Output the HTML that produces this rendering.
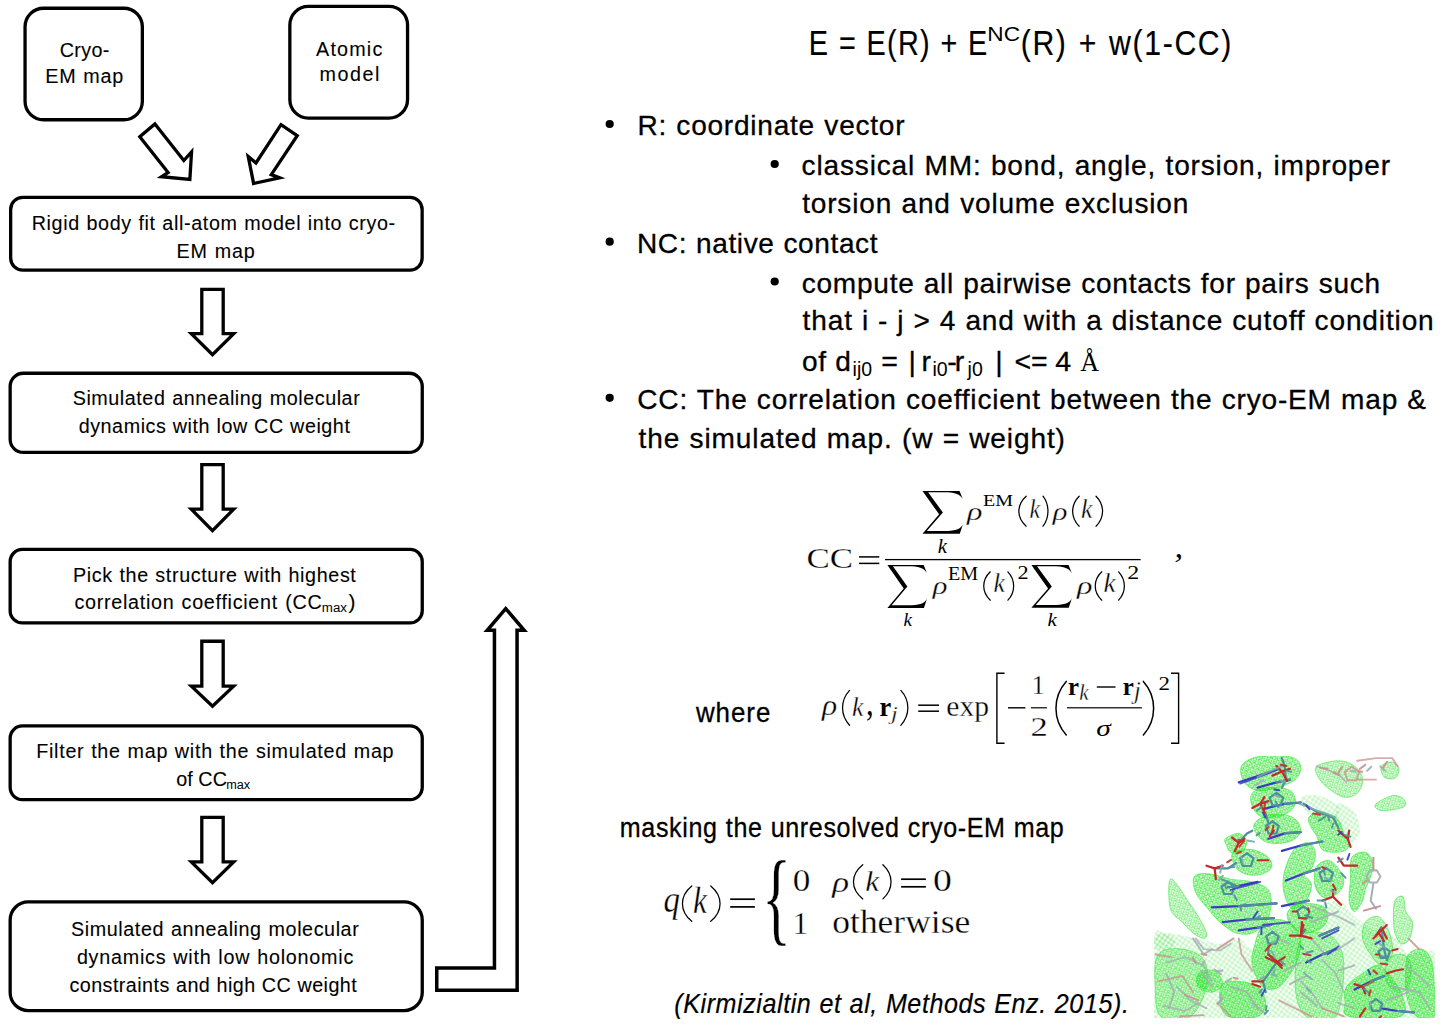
<!DOCTYPE html>
<html><head><meta charset="utf-8"><style>
html,body{margin:0;padding:0;background:#fff;width:1442px;height:1026px;overflow:hidden;font-family:"Liberation Sans",sans-serif}
svg{display:block}
</style></head><body>
<svg width="1442" height="1026" viewBox="0 0 1442 1026">
<rect width="1442" height="1026" fill="#fff"/>
<defs>
<pattern id="mesh" width="5" height="5" patternUnits="userSpaceOnUse" patternTransform="rotate(17)">
<path d="M0,1.2 L2.6,0.4 L5,1.4 M0,3.6 L2.4,2.9 L5,3.8 M0.9,0 L1.3,2.5 L0.7,5 M3.6,0 L3.3,2.6 L3.8,5 M1.3,2.5 L3.3,2.6" stroke="#14e014" stroke-width="0.5" fill="none"/>
</pattern>
<pattern id="mesh2" width="4.3" height="4.3" patternUnits="userSpaceOnUse" patternTransform="rotate(-28)">
<path d="M0,2 L4.3,2 M2,0 L2,4.3" stroke="#20e020" stroke-width="0.4" fill="none"/>
</pattern>
<pattern id="meshL" width="4" height="4" patternUnits="userSpaceOnUse" patternTransform="rotate(35)">
<path d="M0,2 L4,2 M2,0 L2,4" stroke="#3ee03e" stroke-width="0.45" fill="none"/>
</pattern>
<clipPath id="molclip"><rect x="1154" y="756" width="281" height="262"/></clipPath>
</defs>
<g clip-path="url(#molclip)">
<path d="M1154.0,938.4 C1156.1,924.0 1159.2,933.0 1166.1,933.0 C1173.1,933.0 1186.8,936.6 1195.7,938.4 C1204.7,940.2 1212.8,943.8 1220.0,943.8 C1227.1,943.8 1233.4,937.5 1238.8,938.4 C1244.2,939.3 1248.2,949.1 1252.3,949.1 C1256.3,949.1 1256.7,941.1 1263.0,938.4 C1269.3,935.7 1281.9,937.5 1289.9,933.0 C1298.0,928.5 1303.4,916.8 1311.5,911.5 C1319.5,906.1 1331.2,899.8 1338.4,900.7 C1345.6,901.6 1347.8,911.5 1354.5,916.8 C1361.2,922.2 1371.6,929.4 1378.7,933.0 C1385.9,936.6 1392.6,934.8 1397.6,938.4 C1402.5,942.0 1402.1,951.8 1408.3,954.5 C1414.6,957.2 1430.8,943.8 1435.3,954.5 C1439.7,965.3 1482.1,1008.3 1435.3,1019.1 C1388.4,1029.9 1200.9,1032.6 1154.0,1019.1 C1107.2,1005.7 1152.0,952.7 1154.0,938.4 Z" fill="url(#meshL)" opacity="0.75"/>
<path d="M1155.4,935.7 C1157.6,933.4 1165.5,933.0 1168.8,934.3 C1172.2,935.7 1176.0,941.1 1175.6,943.8 C1175.1,946.4 1169.5,949.8 1166.1,950.5 C1162.8,951.2 1157.2,950.3 1155.4,947.8 C1153.6,945.3 1153.1,937.9 1155.4,935.7 Z" fill="url(#meshL)" opacity="0.75"/>
<path d="M1338.4,803.8 C1341.5,802.0 1350.9,807.4 1354.5,811.9 C1358.1,816.4 1359.9,825.8 1359.9,830.7 C1359.9,835.7 1357.2,840.2 1354.5,841.5 C1351.8,842.8 1346.9,841.9 1343.8,838.8 C1340.6,835.7 1336.6,828.5 1335.7,822.7 C1334.8,816.8 1335.2,805.6 1338.4,803.8 Z" fill="url(#meshL)" opacity="0.75"/>
<path d="M1300.7,798.4 C1302.0,794.9 1313.3,794.4 1319.5,795.7 C1325.8,797.1 1336.1,802.5 1338.4,806.5 C1340.6,810.5 1337.5,818.2 1333.0,820.0 C1328.5,821.8 1316.8,820.9 1311.5,817.3 C1306.1,813.7 1299.4,802.0 1300.7,798.4 Z" fill="url(#meshL)" opacity="0.75"/>
<path d="M1241.5,766.1 C1243.7,761.9 1249.6,758.3 1257.6,756.7 C1265.7,755.2 1282.8,755.2 1289.9,756.7 C1297.1,758.3 1299.8,762.3 1300.7,766.1 C1301.6,770.0 1299.4,776.0 1295.3,779.6 C1291.3,783.2 1282.8,785.9 1276.5,787.7 C1270.2,789.5 1263.0,791.3 1257.6,790.4 C1252.3,789.5 1246.9,786.3 1244.2,782.3 C1241.5,778.3 1239.3,770.4 1241.5,766.1 Z" fill="url(#mesh)"/>
<path d="M1241.5,766.1 C1243.7,761.9 1249.6,758.3 1257.6,756.7 C1265.7,755.2 1282.8,755.2 1289.9,756.7 C1297.1,758.3 1299.8,762.3 1300.7,766.1 C1301.6,770.0 1299.4,776.0 1295.3,779.6 C1291.3,783.2 1282.8,785.9 1276.5,787.7 C1270.2,789.5 1263.0,791.3 1257.6,790.4 C1252.3,789.5 1246.9,786.3 1244.2,782.3 C1241.5,778.3 1239.3,770.4 1241.5,766.1 Z" fill="url(#mesh2)" opacity="0.6" stroke="#22e622" stroke-width="0.9"/>
<path d="M1252.3,793.1 C1255.0,789.9 1262.1,788.1 1268.4,787.7 C1274.7,787.2 1285.5,787.7 1289.9,790.4 C1294.4,793.1 1296.2,799.8 1295.3,803.8 C1294.4,807.9 1289.9,812.3 1284.6,814.6 C1279.2,816.8 1268.4,818.6 1263.0,817.3 C1257.6,815.9 1254.1,810.5 1252.3,806.5 C1250.5,802.5 1249.6,796.2 1252.3,793.1 Z" fill="url(#mesh)"/>
<path d="M1252.3,793.1 C1255.0,789.9 1262.1,788.1 1268.4,787.7 C1274.7,787.2 1285.5,787.7 1289.9,790.4 C1294.4,793.1 1296.2,799.8 1295.3,803.8 C1294.4,807.9 1289.9,812.3 1284.6,814.6 C1279.2,816.8 1268.4,818.6 1263.0,817.3 C1257.6,815.9 1254.1,810.5 1252.3,806.5 C1250.5,802.5 1249.6,796.2 1252.3,793.1 Z" fill="url(#mesh2)" opacity="0.6" stroke="#22e622" stroke-width="0.9"/>
<path d="M1255.0,822.7 C1257.4,819.5 1264.8,815.5 1271.1,814.6 C1277.4,813.7 1287.7,814.6 1292.6,817.3 C1297.6,820.0 1301.1,826.7 1300.7,830.7 C1300.3,834.8 1295.3,839.5 1289.9,841.5 C1284.6,843.5 1274.0,844.2 1268.4,842.8 C1262.8,841.5 1258.5,836.8 1256.3,833.4 C1254.1,830.1 1252.5,825.8 1255.0,822.7 Z" fill="url(#mesh)"/>
<path d="M1255.0,822.7 C1257.4,819.5 1264.8,815.5 1271.1,814.6 C1277.4,813.7 1287.7,814.6 1292.6,817.3 C1297.6,820.0 1301.1,826.7 1300.7,830.7 C1300.3,834.8 1295.3,839.5 1289.9,841.5 C1284.6,843.5 1274.0,844.2 1268.4,842.8 C1262.8,841.5 1258.5,836.8 1256.3,833.4 C1254.1,830.1 1252.5,825.8 1255.0,822.7 Z" fill="url(#mesh2)" opacity="0.6" stroke="#22e622" stroke-width="0.9"/>
<path d="M1225.3,838.8 C1227.4,836.8 1235.2,833.0 1238.8,833.4 C1242.4,833.9 1246.4,838.4 1246.9,841.5 C1247.3,844.6 1244.2,850.5 1241.5,852.3 C1238.8,854.1 1233.2,853.4 1230.7,852.3 C1228.3,851.1 1227.6,847.8 1226.7,845.5 C1225.8,843.3 1223.3,840.8 1225.3,838.8 Z" fill="url(#mesh)"/>
<path d="M1225.3,838.8 C1227.4,836.8 1235.2,833.0 1238.8,833.4 C1242.4,833.9 1246.4,838.4 1246.9,841.5 C1247.3,844.6 1244.2,850.5 1241.5,852.3 C1238.8,854.1 1233.2,853.4 1230.7,852.3 C1228.3,851.1 1227.6,847.8 1226.7,845.5 C1225.8,843.3 1223.3,840.8 1225.3,838.8 Z" fill="url(#mesh2)" opacity="0.6" stroke="#22e622" stroke-width="0.9"/>
<path d="M1233.4,852.3 C1236.6,850.0 1246.4,848.7 1252.3,849.6 C1258.1,850.5 1265.3,854.5 1268.4,857.6 C1271.5,860.8 1272.9,865.5 1271.1,868.4 C1269.3,871.3 1262.6,874.5 1257.6,875.1 C1252.7,875.8 1245.5,874.5 1241.5,872.4 C1237.5,870.4 1234.8,866.4 1233.4,863.0 C1232.1,859.7 1230.3,854.5 1233.4,852.3 Z" fill="url(#mesh)"/>
<path d="M1233.4,852.3 C1236.6,850.0 1246.4,848.7 1252.3,849.6 C1258.1,850.5 1265.3,854.5 1268.4,857.6 C1271.5,860.8 1272.9,865.5 1271.1,868.4 C1269.3,871.3 1262.6,874.5 1257.6,875.1 C1252.7,875.8 1245.5,874.5 1241.5,872.4 C1237.5,870.4 1234.8,866.4 1233.4,863.0 C1232.1,859.7 1230.3,854.5 1233.4,852.3 Z" fill="url(#mesh2)" opacity="0.6" stroke="#22e622" stroke-width="0.9"/>
<path d="M1194.4,876.5 C1196.6,873.3 1203.1,873.3 1209.2,873.8 C1215.3,874.2 1223.6,877.8 1230.7,879.2 C1237.9,880.5 1246.0,880.1 1252.3,881.9 C1258.5,883.7 1265.3,885.9 1268.4,889.9 C1271.5,894.0 1271.5,900.7 1271.1,906.1 C1270.6,911.5 1268.9,917.7 1265.7,922.2 C1262.6,926.7 1257.2,931.2 1252.3,933.0 C1247.3,934.8 1241.5,934.8 1236.1,933.0 C1230.7,931.2 1224.7,926.3 1220.0,922.2 C1215.3,918.2 1211.9,913.7 1207.9,908.8 C1203.8,903.8 1198.0,898.0 1195.7,892.6 C1193.5,887.2 1192.2,879.6 1194.4,876.5 Z" fill="url(#mesh)"/>
<path d="M1194.4,876.5 C1196.6,873.3 1203.1,873.3 1209.2,873.8 C1215.3,874.2 1223.6,877.8 1230.7,879.2 C1237.9,880.5 1246.0,880.1 1252.3,881.9 C1258.5,883.7 1265.3,885.9 1268.4,889.9 C1271.5,894.0 1271.5,900.7 1271.1,906.1 C1270.6,911.5 1268.9,917.7 1265.7,922.2 C1262.6,926.7 1257.2,931.2 1252.3,933.0 C1247.3,934.8 1241.5,934.8 1236.1,933.0 C1230.7,931.2 1224.7,926.3 1220.0,922.2 C1215.3,918.2 1211.9,913.7 1207.9,908.8 C1203.8,903.8 1198.0,898.0 1195.7,892.6 C1193.5,887.2 1192.2,879.6 1194.4,876.5 Z" fill="url(#mesh2)" opacity="0.6" stroke="#22e622" stroke-width="0.9"/>
<path d="M1287.2,863.0 C1289.3,857.9 1291.7,851.6 1295.3,848.2 C1298.9,844.9 1305.4,841.9 1308.8,842.8 C1312.1,843.7 1315.1,849.3 1315.5,853.6 C1315.9,857.9 1313.5,865.0 1311.5,868.4 C1309.4,871.8 1303.4,871.1 1303.4,873.8 C1303.4,876.5 1311.0,880.1 1311.5,884.6 C1311.9,889.0 1309.2,896.7 1306.1,900.7 C1302.9,904.7 1296.2,909.7 1292.6,908.8 C1289.0,907.9 1286.1,900.3 1284.6,895.3 C1283.0,890.4 1282.8,884.6 1283.2,879.2 C1283.7,873.8 1285.2,868.2 1287.2,863.0 Z" fill="url(#mesh)"/>
<path d="M1287.2,863.0 C1289.3,857.9 1291.7,851.6 1295.3,848.2 C1298.9,844.9 1305.4,841.9 1308.8,842.8 C1312.1,843.7 1315.1,849.3 1315.5,853.6 C1315.9,857.9 1313.5,865.0 1311.5,868.4 C1309.4,871.8 1303.4,871.1 1303.4,873.8 C1303.4,876.5 1311.0,880.1 1311.5,884.6 C1311.9,889.0 1309.2,896.7 1306.1,900.7 C1302.9,904.7 1296.2,909.7 1292.6,908.8 C1289.0,907.9 1286.1,900.3 1284.6,895.3 C1283.0,890.4 1282.8,884.6 1283.2,879.2 C1283.7,873.8 1285.2,868.2 1287.2,863.0 Z" fill="url(#mesh2)" opacity="0.6" stroke="#22e622" stroke-width="0.9"/>
<path d="M1308.8,817.3 C1310.6,814.6 1317.3,811.4 1322.2,811.9 C1327.2,812.3 1334.8,816.4 1338.4,820.0 C1342.0,823.6 1342.0,829.8 1343.8,833.4 C1345.6,837.0 1348.7,838.8 1349.1,841.5 C1349.6,844.2 1348.7,847.8 1346.4,849.6 C1344.2,851.4 1339.7,852.3 1335.7,852.3 C1331.6,852.3 1325.4,852.3 1322.2,849.6 C1319.1,846.9 1318.6,839.7 1316.8,836.1 C1315.1,832.5 1312.8,831.2 1311.5,828.0 C1310.1,824.9 1307.0,820.0 1308.8,817.3 Z" fill="url(#mesh)"/>
<path d="M1308.8,817.3 C1310.6,814.6 1317.3,811.4 1322.2,811.9 C1327.2,812.3 1334.8,816.4 1338.4,820.0 C1342.0,823.6 1342.0,829.8 1343.8,833.4 C1345.6,837.0 1348.7,838.8 1349.1,841.5 C1349.6,844.2 1348.7,847.8 1346.4,849.6 C1344.2,851.4 1339.7,852.3 1335.7,852.3 C1331.6,852.3 1325.4,852.3 1322.2,849.6 C1319.1,846.9 1318.6,839.7 1316.8,836.1 C1315.1,832.5 1312.8,831.2 1311.5,828.0 C1310.1,824.9 1307.0,820.0 1308.8,817.3 Z" fill="url(#mesh2)" opacity="0.6" stroke="#22e622" stroke-width="0.9"/>
<path d="M1315.5,868.4 C1317.5,863.9 1323.8,860.3 1327.6,860.3 C1331.4,860.3 1335.7,864.8 1338.4,868.4 C1341.1,872.0 1343.8,877.8 1343.8,881.9 C1343.8,885.9 1341.5,889.9 1338.4,892.6 C1335.2,895.3 1328.7,898.9 1324.9,898.0 C1321.1,897.1 1317.1,892.2 1315.5,887.2 C1313.9,882.3 1313.5,872.9 1315.5,868.4 Z" fill="url(#mesh)"/>
<path d="M1315.5,868.4 C1317.5,863.9 1323.8,860.3 1327.6,860.3 C1331.4,860.3 1335.7,864.8 1338.4,868.4 C1341.1,872.0 1343.8,877.8 1343.8,881.9 C1343.8,885.9 1341.5,889.9 1338.4,892.6 C1335.2,895.3 1328.7,898.9 1324.9,898.0 C1321.1,897.1 1317.1,892.2 1315.5,887.2 C1313.9,882.3 1313.5,872.9 1315.5,868.4 Z" fill="url(#mesh2)" opacity="0.6" stroke="#22e622" stroke-width="0.9"/>
<path d="M1289.9,908.8 C1292.2,906.5 1295.3,903.8 1300.7,903.4 C1306.1,902.9 1317.7,903.8 1322.2,906.1 C1326.7,908.3 1327.6,913.3 1327.6,916.8 C1327.6,920.4 1325.8,924.9 1322.2,927.6 C1318.6,930.3 1311.0,933.0 1306.1,933.0 C1301.1,933.0 1295.8,930.3 1292.6,927.6 C1289.5,924.9 1287.7,920.0 1287.2,916.8 C1286.8,913.7 1287.7,911.0 1289.9,908.8 Z" fill="url(#mesh)"/>
<path d="M1289.9,908.8 C1292.2,906.5 1295.3,903.8 1300.7,903.4 C1306.1,902.9 1317.7,903.8 1322.2,906.1 C1326.7,908.3 1327.6,913.3 1327.6,916.8 C1327.6,920.4 1325.8,924.9 1322.2,927.6 C1318.6,930.3 1311.0,933.0 1306.1,933.0 C1301.1,933.0 1295.8,930.3 1292.6,927.6 C1289.5,924.9 1287.7,920.0 1287.2,916.8 C1286.8,913.7 1287.7,911.0 1289.9,908.8 Z" fill="url(#mesh2)" opacity="0.6" stroke="#22e622" stroke-width="0.9"/>
<path d="M1170.2,879.2 C1171.5,877.4 1174.0,881.0 1176.9,884.6 C1179.8,888.1 1184.1,895.3 1187.7,900.7 C1191.3,906.1 1195.3,911.5 1198.4,916.8 C1201.6,922.2 1205.6,929.4 1206.5,933.0 C1207.4,936.6 1206.1,938.4 1203.8,938.4 C1201.6,938.4 1196.6,935.7 1193.1,933.0 C1189.5,930.3 1185.9,925.8 1182.3,922.2 C1178.7,918.6 1173.8,915.9 1171.5,911.5 C1169.3,907.0 1169.1,900.7 1168.8,895.3 C1168.6,889.9 1168.8,881.0 1170.2,879.2 Z" fill="url(#mesh)" opacity="0.8" stroke="#2ee02e" stroke-width="0.7"/>
<path d="M1316.8,766.1 C1320.2,763.5 1332.1,760.8 1338.4,760.8 C1344.7,760.8 1350.5,763.0 1354.5,766.1 C1358.6,769.3 1362.1,775.1 1362.6,779.6 C1363.0,784.1 1360.4,790.1 1357.2,793.1 C1354.1,796.0 1348.7,798.0 1343.8,797.1 C1338.8,796.2 1331.9,791.0 1327.6,787.7 C1323.3,784.3 1320.0,780.5 1318.2,776.9 C1316.4,773.3 1313.5,768.8 1316.8,766.1 Z" fill="url(#mesh)" opacity="0.8" stroke="#2ee02e" stroke-width="0.7"/>
<path d="M1381.4,766.1 C1382.8,763.7 1389.3,761.7 1392.2,762.1 C1395.1,762.6 1398.5,766.1 1398.9,768.8 C1399.4,771.5 1397.4,776.9 1394.9,778.3 C1392.4,779.6 1386.4,778.9 1384.1,776.9 C1381.9,774.9 1380.1,768.6 1381.4,766.1 Z" fill="url(#mesh)" opacity="0.8" stroke="#2ee02e" stroke-width="0.7"/>
<path d="M1376.0,803.8 C1378.5,801.6 1387.7,796.6 1392.2,795.7 C1396.7,794.9 1400.9,796.6 1403.0,798.4 C1405.0,800.2 1407.0,804.5 1404.3,806.5 C1401.6,808.5 1391.3,810.1 1386.8,810.5 C1382.3,811.0 1379.2,810.3 1377.4,809.2 C1375.6,808.1 1373.6,806.1 1376.0,803.8 Z" fill="url(#mesh)" opacity="0.8" stroke="#2ee02e" stroke-width="0.7"/>
<path d="M1351.8,857.6 C1354.3,853.2 1361.7,851.4 1365.3,852.3 C1368.9,853.2 1372.5,859.0 1373.4,863.0 C1374.3,867.1 1372.0,872.0 1370.7,876.5 C1369.3,881.0 1366.6,885.9 1365.3,889.9 C1363.9,894.0 1364.4,897.1 1362.6,900.7 C1360.8,904.3 1356.8,911.5 1354.5,911.5 C1352.3,911.5 1349.8,906.1 1349.1,900.7 C1348.5,895.3 1350.0,886.3 1350.5,879.2 C1350.9,872.0 1349.4,862.1 1351.8,857.6 Z" fill="url(#mesh)"/>
<path d="M1351.8,857.6 C1354.3,853.2 1361.7,851.4 1365.3,852.3 C1368.9,853.2 1372.5,859.0 1373.4,863.0 C1374.3,867.1 1372.0,872.0 1370.7,876.5 C1369.3,881.0 1366.6,885.9 1365.3,889.9 C1363.9,894.0 1364.4,897.1 1362.6,900.7 C1360.8,904.3 1356.8,911.5 1354.5,911.5 C1352.3,911.5 1349.8,906.1 1349.1,900.7 C1348.5,895.3 1350.0,886.3 1350.5,879.2 C1350.9,872.0 1349.4,862.1 1351.8,857.6 Z" fill="url(#mesh2)" opacity="0.6" stroke="#22e622" stroke-width="0.9"/>
<path d="M1394.9,900.7 C1396.5,897.3 1401.2,894.9 1403.0,896.7 C1404.8,898.5 1404.1,907.2 1405.7,911.5 C1407.2,915.7 1411.7,917.7 1412.4,922.2 C1413.1,926.7 1411.5,934.8 1409.7,938.4 C1407.9,942.0 1404.1,944.7 1401.6,943.8 C1399.1,942.9 1396.2,937.5 1394.9,933.0 C1393.5,928.5 1393.5,922.2 1393.5,916.8 C1393.5,911.5 1393.3,904.1 1394.9,900.7 Z" fill="url(#mesh)" opacity="0.8" stroke="#2ee02e" stroke-width="0.7"/>
<path d="M1408.3,954.5 C1411.0,950.5 1418.0,948.2 1421.8,949.1 C1425.6,950.0 1429.2,954.5 1431.2,959.9 C1433.2,965.3 1433.5,972.0 1433.9,981.4 C1434.4,990.9 1436.8,1010.6 1433.9,1016.4 C1431.0,1022.2 1420.9,1019.6 1416.4,1016.4 C1411.9,1013.3 1408.8,1004.8 1407.0,997.6 C1405.2,990.4 1405.4,980.5 1405.7,973.4 C1405.9,966.2 1405.7,958.6 1408.3,954.5 Z" fill="url(#mesh)"/>
<path d="M1408.3,954.5 C1411.0,950.5 1418.0,948.2 1421.8,949.1 C1425.6,950.0 1429.2,954.5 1431.2,959.9 C1433.2,965.3 1433.5,972.0 1433.9,981.4 C1434.4,990.9 1436.8,1010.6 1433.9,1016.4 C1431.0,1022.2 1420.9,1019.6 1416.4,1016.4 C1411.9,1013.3 1408.8,1004.8 1407.0,997.6 C1405.2,990.4 1405.4,980.5 1405.7,973.4 C1405.9,966.2 1405.7,958.6 1408.3,954.5 Z" fill="url(#mesh2)" opacity="0.6" stroke="#22e622" stroke-width="0.9"/>
<path d="M1346.4,986.8 C1349.4,981.9 1357.2,976.9 1362.6,973.4 C1368.0,969.8 1373.8,964.4 1378.7,965.3 C1383.7,966.2 1388.2,973.4 1392.2,978.7 C1396.2,984.1 1401.6,991.3 1403.0,997.6 C1404.3,1003.9 1409.2,1013.3 1400.3,1016.4 C1391.3,1019.6 1358.3,1018.7 1349.1,1016.4 C1339.9,1014.2 1345.6,1007.9 1345.1,1003.0 C1344.7,998.0 1343.5,991.7 1346.4,986.8 Z" fill="url(#mesh)"/>
<path d="M1346.4,986.8 C1349.4,981.9 1357.2,976.9 1362.6,973.4 C1368.0,969.8 1373.8,964.4 1378.7,965.3 C1383.7,966.2 1388.2,973.4 1392.2,978.7 C1396.2,984.1 1401.6,991.3 1403.0,997.6 C1404.3,1003.9 1409.2,1013.3 1400.3,1016.4 C1391.3,1019.6 1358.3,1018.7 1349.1,1016.4 C1339.9,1014.2 1345.6,1007.9 1345.1,1003.0 C1344.7,998.0 1343.5,991.7 1346.4,986.8 Z" fill="url(#mesh2)" opacity="0.6" stroke="#22e622" stroke-width="0.9"/>
<path d="M1263.0,924.9 C1267.1,920.9 1273.8,919.1 1279.2,919.5 C1284.6,920.0 1291.7,923.6 1295.3,927.6 C1298.9,931.6 1300.7,937.5 1300.7,943.8 C1300.7,950.0 1298.9,958.1 1295.3,965.3 C1291.7,972.5 1284.6,983.2 1279.2,986.8 C1273.8,990.4 1267.5,990.4 1263.0,986.8 C1258.5,983.2 1253.6,972.5 1252.3,965.3 C1250.9,958.1 1253.2,950.5 1255.0,943.8 C1256.7,937.0 1259.0,929.0 1263.0,924.9 Z" fill="url(#mesh)"/>
<path d="M1263.0,924.9 C1267.1,920.9 1273.8,919.1 1279.2,919.5 C1284.6,920.0 1291.7,923.6 1295.3,927.6 C1298.9,931.6 1300.7,937.5 1300.7,943.8 C1300.7,950.0 1298.9,958.1 1295.3,965.3 C1291.7,972.5 1284.6,983.2 1279.2,986.8 C1273.8,990.4 1267.5,990.4 1263.0,986.8 C1258.5,983.2 1253.6,972.5 1252.3,965.3 C1250.9,958.1 1253.2,950.5 1255.0,943.8 C1256.7,937.0 1259.0,929.0 1263.0,924.9 Z" fill="url(#mesh2)" opacity="0.6" stroke="#22e622" stroke-width="0.9"/>
<path d="M1222.7,984.1 C1225.8,981.0 1233.0,981.0 1238.8,981.4 C1244.6,981.9 1253.2,983.2 1257.6,986.8 C1262.1,990.4 1265.7,998.0 1265.7,1003.0 C1265.7,1007.9 1263.9,1014.2 1257.6,1016.4 C1251.4,1018.7 1234.3,1019.1 1228.0,1016.4 C1221.8,1013.7 1220.9,1005.7 1220.0,1000.3 C1219.1,994.9 1219.5,987.3 1222.7,984.1 Z" fill="url(#mesh)"/>
<path d="M1222.7,984.1 C1225.8,981.0 1233.0,981.0 1238.8,981.4 C1244.6,981.9 1253.2,983.2 1257.6,986.8 C1262.1,990.4 1265.7,998.0 1265.7,1003.0 C1265.7,1007.9 1263.9,1014.2 1257.6,1016.4 C1251.4,1018.7 1234.3,1019.1 1228.0,1016.4 C1221.8,1013.7 1220.9,1005.7 1220.0,1000.3 C1219.1,994.9 1219.5,987.3 1222.7,984.1 Z" fill="url(#mesh2)" opacity="0.6" stroke="#22e622" stroke-width="0.9"/>
<path d="M1365.3,922.2 C1368.0,918.6 1374.7,915.1 1378.7,916.8 C1382.8,918.6 1387.3,926.7 1389.5,933.0 C1391.7,939.3 1393.5,949.1 1392.2,954.5 C1390.9,959.9 1385.0,965.3 1381.4,965.3 C1377.8,965.3 1373.8,959.0 1370.7,954.5 C1367.5,950.0 1363.5,943.8 1362.6,938.4 C1361.7,933.0 1362.6,925.8 1365.3,922.2 Z" fill="url(#mesh)" opacity="0.8" stroke="#2ee02e" stroke-width="0.7"/>
<path d="M1198.4,973.4 C1201.1,970.7 1210.5,968.9 1214.6,970.7 C1218.6,972.5 1223.1,980.5 1222.7,984.1 C1222.2,987.7 1215.9,991.7 1211.9,992.2 C1207.9,992.6 1200.7,990.0 1198.4,986.8 C1196.2,983.7 1195.7,976.0 1198.4,973.4 Z" fill="url(#mesh)"/>
<path d="M1198.4,973.4 C1201.1,970.7 1210.5,968.9 1214.6,970.7 C1218.6,972.5 1223.1,980.5 1222.7,984.1 C1222.2,987.7 1215.9,991.7 1211.9,992.2 C1207.9,992.6 1200.7,990.0 1198.4,986.8 C1196.2,983.7 1195.7,976.0 1198.4,973.4 Z" fill="url(#mesh2)" opacity="0.6" stroke="#22e622" stroke-width="0.9"/>
<path d="M1158.1,954.5 C1162.6,948.2 1174.7,948.2 1182.3,949.1 C1189.9,950.0 1199.8,953.6 1203.8,959.9 C1207.9,966.2 1208.8,977.4 1206.5,986.8 C1204.3,996.2 1198.0,1011.5 1190.4,1016.4 C1182.7,1021.3 1166.6,1021.3 1160.8,1016.4 C1154.9,1011.5 1155.8,997.1 1155.4,986.8 C1154.9,976.5 1153.6,960.8 1158.1,954.5 Z" fill="url(#mesh)" opacity="0.8" stroke="#2ee02e" stroke-width="0.7"/>
<path d="M1300.7,938.4 C1305.2,929.4 1315.9,932.1 1322.2,933.0 C1328.5,933.9 1334.8,937.5 1338.4,943.8 C1342.0,950.0 1344.2,958.6 1343.8,970.7 C1343.3,982.8 1342.0,1008.8 1335.7,1016.4 C1329.4,1024.0 1312.8,1021.3 1306.1,1016.4 C1299.4,1011.5 1296.2,999.8 1295.3,986.8 C1294.4,973.8 1296.2,947.3 1300.7,938.4 Z" fill="url(#mesh)" opacity="0.8" stroke="#2ee02e" stroke-width="0.7"/>
<path d="M1386.8,959.9 C1389.5,955.4 1398.9,953.6 1403.0,954.5 C1407.0,955.4 1410.1,959.9 1411.0,965.3 C1411.9,970.7 1410.6,982.3 1408.3,986.8 C1406.1,991.3 1401.2,993.1 1397.6,992.2 C1394.0,991.3 1388.6,986.8 1386.8,981.4 C1385.0,976.0 1384.1,964.4 1386.8,959.9 Z" fill="url(#mesh)" opacity="0.8" stroke="#2ee02e" stroke-width="0.7"/>
<polyline points="1195.7,938.4 1203.8,949.1 1220.0,950.5 1230.7,943.8" fill="none" stroke="#a3adb4" stroke-width="1.92" stroke-linecap="round" stroke-linejoin="round" opacity="0.75"/>
<polyline points="1166.1,962.6 1185.0,957.2 1203.8,965.3 1211.9,981.4" fill="none" stroke="#a3adb4" stroke-width="1.92" stroke-linecap="round" stroke-linejoin="round" opacity="0.75"/>
<polyline points="1158.1,981.4 1182.3,976.0 1193.1,992.2" fill="none" stroke="#c99090" stroke-width="1.92" stroke-linecap="round" stroke-linejoin="round" opacity="0.75"/>
<polyline points="1163.5,1005.7 1185.0,1011.0 1198.4,1003.0" fill="none" stroke="#a3adb4" stroke-width="1.92" stroke-linecap="round" stroke-linejoin="round" opacity="0.75"/>
<polyline points="1238.8,938.4 1241.5,954.5 1252.3,970.7" fill="none" stroke="#c99090" stroke-width="1.92" stroke-linecap="round" stroke-linejoin="round" opacity="0.75"/>
<polyline points="1176.9,986.8 1190.4,1000.3 1206.5,1008.3" fill="none" stroke="#a3adb4" stroke-width="1.92" stroke-linecap="round" stroke-linejoin="round" opacity="0.75"/>
<polyline points="1311.5,938.4 1324.9,954.5 1338.4,949.1 1354.5,938.4" fill="none" stroke="#a3adb4" stroke-width="1.92" stroke-linecap="round" stroke-linejoin="round" opacity="0.75"/>
<polyline points="1322.2,959.9 1335.7,973.4 1343.8,992.2" fill="none" stroke="#a3adb4" stroke-width="1.92" stroke-linecap="round" stroke-linejoin="round" opacity="0.75"/>
<polyline points="1300.7,981.4 1311.5,992.2 1322.2,1008.3" fill="none" stroke="#a3adb4" stroke-width="1.92" stroke-linecap="round" stroke-linejoin="round" opacity="0.75"/>
<polyline points="1217.3,1003.0 1230.7,1016.4" fill="none" stroke="#c99090" stroke-width="1.92" stroke-linecap="round" stroke-linejoin="round" opacity="0.75"/>
<polyline points="1405.7,965.3 1419.1,976.0 1429.9,986.8" fill="none" stroke="#a3adb4" stroke-width="1.92" stroke-linecap="round" stroke-linejoin="round" opacity="0.75"/>
<polyline points="1311.5,906.1 1324.9,911.5 1338.4,916.8 1354.5,924.9" fill="none" stroke="#a3adb4" stroke-width="1.92" stroke-linecap="round" stroke-linejoin="round" opacity="0.75"/>
<polyline points="1279.2,1000.3 1295.3,1008.3 1311.5,1016.4" fill="none" stroke="#c99090" stroke-width="1.92" stroke-linecap="round" stroke-linejoin="round" opacity="0.75"/>
<polyline points="1155.4,954.5 1171.5,957.2" fill="none" stroke="#c99090" stroke-width="1.92" stroke-linecap="round" stroke-linejoin="round" opacity="0.75"/>
<polyline points="1338.4,1003.0 1354.5,1008.3" fill="none" stroke="#a3adb4" stroke-width="1.92" stroke-linecap="round" stroke-linejoin="round" opacity="0.75"/>
<polyline points="1252.3,1003.0 1265.7,1013.7" fill="none" stroke="#a3adb4" stroke-width="1.92" stroke-linecap="round" stroke-linejoin="round" opacity="0.75"/>
<polyline points="1276.5,938.4 1289.9,943.8" fill="none" stroke="#a3adb4" stroke-width="1.92" stroke-linecap="round" stroke-linejoin="round" opacity="0.75"/>
<polyline points="1357.2,779.6 1376.0,779.6" fill="none" stroke="#c99090" stroke-width="1.92" stroke-linecap="round" stroke-linejoin="round" opacity="0.75"/>
<polyline points="1316.8,766.1 1338.4,774.2 1346.4,782.3" fill="none" stroke="#a3adb4" stroke-width="1.92" stroke-linecap="round" stroke-linejoin="round" opacity="0.75"/>
<polyline points="1357.2,760.8 1376.0,758.1 1392.2,758.1 1397.6,766.1" fill="none" stroke="#c99090" stroke-width="1.92" stroke-linecap="round" stroke-linejoin="round" opacity="0.75"/>
<polyline points="1351.8,766.7 1359.0,771.9 1356.3,780.3 1347.4,780.3 1344.7,771.9 1351.8,766.7" fill="none" stroke="#c99090" stroke-width="1.92" stroke-linecap="round" stroke-linejoin="round" opacity="0.8"/>
<polyline points="1380.4,876.5 1376.9,882.5 1369.9,882.5 1366.4,876.5 1369.9,870.4 1376.9,870.4 1380.4,876.5" fill="none" stroke="#a3adb4" stroke-width="2.08" stroke-linecap="round" stroke-linejoin="round" opacity="0.9"/>
<polyline points="1373.4,857.6 1373.4,869.5" fill="none" stroke="#c99090" stroke-width="1.92" stroke-linecap="round" stroke-linejoin="round" opacity="1.0"/>
<polyline points="1362.6,883.2 1366.9,880.5" fill="none" stroke="#c99090" stroke-width="1.92" stroke-linecap="round" stroke-linejoin="round" opacity="1.0"/>
<polyline points="1373.4,883.5 1370.7,900.7 1376.0,908.8" fill="none" stroke="#a3adb4" stroke-width="1.92" stroke-linecap="round" stroke-linejoin="round" opacity="1.0"/>
<polyline points="1363.9,910.7 1380.1,906.1" fill="none" stroke="#c99090" stroke-width="1.92" stroke-linecap="round" stroke-linejoin="round" opacity="1.0"/>
<polyline points="1238.8,782.3 1263.0,774.2 1279.2,768.8" fill="none" stroke="#3b3bc4" stroke-width="2.2399999999999998" stroke-linecap="round" stroke-linejoin="round" opacity="1.0"/>
<polyline points="1263.0,774.2 1279.2,768.8" fill="none" stroke="#4f8f9c" stroke-width="2.08" stroke-linecap="round" stroke-linejoin="round" opacity="1.0"/>
<polyline points="1257.6,787.7 1276.5,782.3 1289.9,779.6" fill="none" stroke="#3b3bc4" stroke-width="2.2399999999999998" stroke-linecap="round" stroke-linejoin="round" opacity="1.0"/>
<polyline points="1276.5,782.3 1289.9,779.6" fill="none" stroke="#4f8f9c" stroke-width="2.08" stroke-linecap="round" stroke-linejoin="round" opacity="1.0"/>
<polyline points="1263.0,809.2 1284.6,803.8 1300.7,802.5" fill="none" stroke="#3b3bc4" stroke-width="2.2399999999999998" stroke-linecap="round" stroke-linejoin="round" opacity="1.0"/>
<polyline points="1284.6,803.8 1300.7,802.5" fill="none" stroke="#4f8f9c" stroke-width="2.08" stroke-linecap="round" stroke-linejoin="round" opacity="1.0"/>
<polyline points="1268.4,838.8 1284.6,833.4 1300.7,832.1" fill="none" stroke="#3b3bc4" stroke-width="2.2399999999999998" stroke-linecap="round" stroke-linejoin="round" opacity="1.0"/>
<polyline points="1284.6,833.4 1300.7,832.1" fill="none" stroke="#4f8f9c" stroke-width="2.08" stroke-linecap="round" stroke-linejoin="round" opacity="1.0"/>
<polyline points="1281.9,850.9 1300.7,845.5 1322.2,841.5" fill="none" stroke="#3b3bc4" stroke-width="2.2399999999999998" stroke-linecap="round" stroke-linejoin="round" opacity="1.0"/>
<polyline points="1300.7,845.5 1322.2,841.5" fill="none" stroke="#4f8f9c" stroke-width="2.08" stroke-linecap="round" stroke-linejoin="round" opacity="1.0"/>
<polyline points="1285.9,880.5 1303.4,873.8 1319.5,868.4" fill="none" stroke="#3b3bc4" stroke-width="2.2399999999999998" stroke-linecap="round" stroke-linejoin="round" opacity="1.0"/>
<polyline points="1303.4,873.8 1319.5,868.4" fill="none" stroke="#4f8f9c" stroke-width="2.08" stroke-linecap="round" stroke-linejoin="round" opacity="1.0"/>
<polyline points="1211.9,907.4 1238.8,906.1 1276.5,903.4" fill="none" stroke="#3b3bc4" stroke-width="2.2399999999999998" stroke-linecap="round" stroke-linejoin="round" opacity="1.0"/>
<polyline points="1238.8,906.1 1276.5,903.4" fill="none" stroke="#4f8f9c" stroke-width="2.08" stroke-linecap="round" stroke-linejoin="round" opacity="1.0"/>
<polyline points="1222.7,922.2 1246.9,919.5 1273.8,918.2" fill="none" stroke="#3b3bc4" stroke-width="2.2399999999999998" stroke-linecap="round" stroke-linejoin="round" opacity="1.0"/>
<polyline points="1246.9,919.5 1273.8,918.2" fill="none" stroke="#4f8f9c" stroke-width="2.08" stroke-linecap="round" stroke-linejoin="round" opacity="1.0"/>
<polyline points="1238.8,930.3 1257.6,927.6 1271.1,924.9" fill="none" stroke="#3b3bc4" stroke-width="2.2399999999999998" stroke-linecap="round" stroke-linejoin="round" opacity="1.0"/>
<polyline points="1257.6,927.6 1271.1,924.9" fill="none" stroke="#4f8f9c" stroke-width="2.08" stroke-linecap="round" stroke-linejoin="round" opacity="1.0"/>
<polyline points="1281.9,906.1 1295.3,903.4 1308.8,900.7" fill="none" stroke="#3b3bc4" stroke-width="2.2399999999999998" stroke-linecap="round" stroke-linejoin="round" opacity="1.0"/>
<polyline points="1295.3,903.4 1308.8,900.7" fill="none" stroke="#4f8f9c" stroke-width="2.08" stroke-linecap="round" stroke-linejoin="round" opacity="1.0"/>
<polyline points="1257.6,881.9 1238.8,885.9 1228.0,887.2" fill="none" stroke="#3b3bc4" stroke-width="2.2399999999999998" stroke-linecap="round" stroke-linejoin="round" opacity="1.0"/>
<polyline points="1238.8,885.9 1228.0,887.2" fill="none" stroke="#4f8f9c" stroke-width="2.08" stroke-linecap="round" stroke-linejoin="round" opacity="1.0"/>
<polyline points="1381.4,1008.3 1397.6,1011.0 1413.7,1012.4" fill="none" stroke="#3b3bc4" stroke-width="2.2399999999999998" stroke-linecap="round" stroke-linejoin="round" opacity="1.0"/>
<polyline points="1397.6,1011.0 1413.7,1012.4" fill="none" stroke="#4f8f9c" stroke-width="2.08" stroke-linecap="round" stroke-linejoin="round" opacity="1.0"/>
<polyline points="1354.5,989.5 1370.7,981.4 1384.1,976.0" fill="none" stroke="#3b3bc4" stroke-width="2.2399999999999998" stroke-linecap="round" stroke-linejoin="round" opacity="1.0"/>
<polyline points="1370.7,981.4 1384.1,976.0" fill="none" stroke="#4f8f9c" stroke-width="2.08" stroke-linecap="round" stroke-linejoin="round" opacity="1.0"/>
<polyline points="1306.1,962.6 1322.2,954.5 1335.7,949.1" fill="none" stroke="#3b3bc4" stroke-width="2.2399999999999998" stroke-linecap="round" stroke-linejoin="round" opacity="1.0"/>
<polyline points="1322.2,954.5 1335.7,949.1" fill="none" stroke="#4f8f9c" stroke-width="2.08" stroke-linecap="round" stroke-linejoin="round" opacity="1.0"/>
<polyline points="1319.5,935.7 1338.4,927.6" fill="none" stroke="#3b3bc4" stroke-width="2.2399999999999998" stroke-linecap="round" stroke-linejoin="round" opacity="1.0"/>
<polyline points="1319.5,935.7 1338.4,927.6" fill="none" stroke="#4f8f9c" stroke-width="2.08" stroke-linecap="round" stroke-linejoin="round" opacity="1.0"/>
<polyline points="1281.9,758.1 1284.6,766.1 1285.9,779.6 1281.9,787.7" fill="none" stroke="#4f8f9c" stroke-width="2.2399999999999998" stroke-linecap="round" stroke-linejoin="round" opacity="1.0"/>
<polyline points="1276.5,766.1 1281.9,771.5 1272.4,775.6" fill="none" stroke="#c42a2a" stroke-width="2.2399999999999998" stroke-linecap="round" stroke-linejoin="round" opacity="1.0"/>
<polyline points="1289.9,768.8 1281.9,771.5 1287.2,780.9" fill="none" stroke="#c42a2a" stroke-width="2.2399999999999998" stroke-linecap="round" stroke-linejoin="round" opacity="1.0"/>
<polyline points="1276.5,792.8 1283.1,797.6 1280.6,805.4 1272.4,805.4 1269.8,797.6 1276.5,792.8" fill="none" stroke="#4f8f9c" stroke-width="2.2399999999999998" stroke-linecap="round" stroke-linejoin="round" opacity="1.0"/>
<polyline points="1268.4,801.1 1260.3,803.8 1252.3,807.9" fill="none" stroke="#c42a2a" stroke-width="2.2399999999999998" stroke-linecap="round" stroke-linejoin="round" opacity="1.0"/>
<polyline points="1264.4,797.1 1260.3,803.8 1265.7,814.6" fill="none" stroke="#c42a2a" stroke-width="2.2399999999999998" stroke-linecap="round" stroke-linejoin="round" opacity="1.0"/>
<polyline points="1265.7,814.6 1268.4,822.7" fill="none" stroke="#4f8f9c" stroke-width="2.2399999999999998" stroke-linecap="round" stroke-linejoin="round" opacity="1.0"/>
<polyline points="1272.4,821.3 1278.8,826.0 1276.4,833.5 1268.5,833.5 1266.0,826.0 1272.4,821.3" fill="none" stroke="#4f8f9c" stroke-width="2.2399999999999998" stroke-linecap="round" stroke-linejoin="round" opacity="1.0"/>
<polyline points="1269.8,836.1 1273.8,830.7" fill="none" stroke="#c42a2a" stroke-width="2.08" stroke-linecap="round" stroke-linejoin="round" opacity="1.0"/>
<polyline points="1252.3,830.7 1246.9,833.4 1238.8,842.8" fill="none" stroke="#4f8f9c" stroke-width="2.2399999999999998" stroke-linecap="round" stroke-linejoin="round" opacity="1.0"/>
<polyline points="1232.1,837.5 1238.8,842.8 1244.2,838.8" fill="none" stroke="#c42a2a" stroke-width="2.2399999999999998" stroke-linecap="round" stroke-linejoin="round" opacity="1.0"/>
<polyline points="1238.8,842.8 1234.8,850.9" fill="none" stroke="#c42a2a" stroke-width="2.2399999999999998" stroke-linecap="round" stroke-linejoin="round" opacity="1.0"/>
<polyline points="1246.9,853.3 1253.5,858.2 1251.0,866.0 1242.8,866.0 1240.2,858.2 1246.9,853.3" fill="none" stroke="#4f8f9c" stroke-width="2.2399999999999998" stroke-linecap="round" stroke-linejoin="round" opacity="1.0"/>
<polyline points="1257.6,860.3 1268.4,860.3" fill="none" stroke="#c42a2a" stroke-width="2.08" stroke-linecap="round" stroke-linejoin="round" opacity="1.0"/>
<polyline points="1236.1,863.0 1228.0,868.4 1214.6,868.4" fill="none" stroke="#4f8f9c" stroke-width="2.2399999999999998" stroke-linecap="round" stroke-linejoin="round" opacity="1.0"/>
<polyline points="1206.5,865.7 1214.6,868.4 1222.7,865.7" fill="none" stroke="#c42a2a" stroke-width="2.2399999999999998" stroke-linecap="round" stroke-linejoin="round" opacity="1.0"/>
<polyline points="1214.6,868.4 1215.9,879.2" fill="none" stroke="#c42a2a" stroke-width="2.2399999999999998" stroke-linecap="round" stroke-linejoin="round" opacity="1.0"/>
<polyline points="1228.0,881.9 1234.4,886.5 1232.0,894.0 1224.1,894.0 1221.6,886.5 1228.0,881.9" fill="none" stroke="#4f8f9c" stroke-width="2.2399999999999998" stroke-linecap="round" stroke-linejoin="round" opacity="1.0"/>
<polyline points="1289.9,935.7 1300.7,935.7 1311.5,938.4" fill="none" stroke="#c42a2a" stroke-width="2.2399999999999998" stroke-linecap="round" stroke-linejoin="round" opacity="1.0"/>
<polyline points="1303.4,924.9 1300.7,935.7" fill="none" stroke="#c42a2a" stroke-width="2.2399999999999998" stroke-linecap="round" stroke-linejoin="round" opacity="1.0"/>
<polyline points="1272.4,931.9 1278.6,936.4 1276.2,943.6 1268.6,943.6 1266.3,936.4 1272.4,931.9" fill="none" stroke="#4f8f9c" stroke-width="2.2399999999999998" stroke-linecap="round" stroke-linejoin="round" opacity="1.0"/>
<polyline points="1268.4,946.4 1268.4,954.5 1276.5,962.6 1263.0,981.4 1265.7,992.2" fill="none" stroke="#4f8f9c" stroke-width="2.2399999999999998" stroke-linecap="round" stroke-linejoin="round" opacity="1.0"/>
<polyline points="1268.4,954.5 1275.1,959.9 1281.9,965.3" fill="none" stroke="#c42a2a" stroke-width="2.2399999999999998" stroke-linecap="round" stroke-linejoin="round" opacity="1.0"/>
<polyline points="1252.3,981.4 1263.0,981.4" fill="none" stroke="#c42a2a" stroke-width="2.08" stroke-linecap="round" stroke-linejoin="round" opacity="1.0"/>
<polyline points="1303.4,803.8 1316.8,811.9 1333.0,817.3 1338.4,828.0" fill="none" stroke="#4f8f9c" stroke-width="2.2399999999999998" stroke-linecap="round" stroke-linejoin="round" opacity="1.0"/>
<polyline points="1338.4,830.7 1347.8,838.8 1350.5,846.9" fill="none" stroke="#c42a2a" stroke-width="2.2399999999999998" stroke-linecap="round" stroke-linejoin="round" opacity="1.0"/>
<polyline points="1349.1,830.7 1347.8,838.8" fill="none" stroke="#c42a2a" stroke-width="2.2399999999999998" stroke-linecap="round" stroke-linejoin="round" opacity="1.0"/>
<polyline points="1338.4,857.6 1343.8,865.7 1357.2,865.7" fill="none" stroke="#c42a2a" stroke-width="2.2399999999999998" stroke-linecap="round" stroke-linejoin="round" opacity="1.0"/>
<polyline points="1326.3,868.1 1332.9,873.0 1330.4,880.8 1322.2,880.8 1319.6,873.0 1326.3,868.1" fill="none" stroke="#4f8f9c" stroke-width="2.2399999999999998" stroke-linecap="round" stroke-linejoin="round" opacity="1.0"/>
<polyline points="1322.2,867.1 1324.9,868.4" fill="none" stroke="#c42a2a" stroke-width="2.08" stroke-linecap="round" stroke-linejoin="round" opacity="1.0"/>
<polyline points="1333.0,884.6 1335.7,889.9" fill="none" stroke="#c42a2a" stroke-width="2.08" stroke-linecap="round" stroke-linejoin="round" opacity="1.0"/>
<polyline points="1322.2,900.7 1333.0,896.7 1341.1,904.7" fill="none" stroke="#c42a2a" stroke-width="2.2399999999999998" stroke-linecap="round" stroke-linejoin="round" opacity="1.0"/>
<polyline points="1333.0,889.9 1333.0,896.7" fill="none" stroke="#c42a2a" stroke-width="2.2399999999999998" stroke-linecap="round" stroke-linejoin="round" opacity="1.0"/>
<polyline points="1303.4,906.4 1309.5,910.8 1307.2,918.0 1299.6,918.0 1297.2,910.8 1303.4,906.4" fill="none" stroke="#4f8f9c" stroke-width="2.2399999999999998" stroke-linecap="round" stroke-linejoin="round" opacity="1.0"/>
<polyline points="1292.6,911.5 1296.9,911.5" fill="none" stroke="#c42a2a" stroke-width="2.08" stroke-linecap="round" stroke-linejoin="round" opacity="1.0"/>
<polyline points="1302.0,922.2 1300.7,935.7" fill="none" stroke="#c42a2a" stroke-width="2.2399999999999998" stroke-linecap="round" stroke-linejoin="round" opacity="1.0"/>
<polyline points="1376.0,935.7 1381.4,927.6 1386.8,938.4" fill="none" stroke="#c42a2a" stroke-width="2.2399999999999998" stroke-linecap="round" stroke-linejoin="round" opacity="1.0"/>
<polyline points="1381.4,927.6 1384.1,949.1 1386.8,959.9" fill="none" stroke="#4f8f9c" stroke-width="2.2399999999999998" stroke-linecap="round" stroke-linejoin="round" opacity="1.0"/>
<polyline points="1384.1,947.3 1389.8,951.3 1387.6,958.0 1380.6,958.0 1378.5,951.3 1384.1,947.3" fill="none" stroke="#4f8f9c" stroke-width="2.2399999999999998" stroke-linecap="round" stroke-linejoin="round" opacity="1.0"/>
<polyline points="1392.2,950.5 1397.6,949.1" fill="none" stroke="#c42a2a" stroke-width="2.08" stroke-linecap="round" stroke-linejoin="round" opacity="1.0"/>
<polyline points="1354.5,984.1 1362.6,986.8 1365.3,993.5" fill="none" stroke="#c42a2a" stroke-width="2.2399999999999998" stroke-linecap="round" stroke-linejoin="round" opacity="1.0"/>
<polyline points="1362.6,986.8 1373.4,981.4" fill="none" stroke="#8a7a44" stroke-width="2.2399999999999998" stroke-linecap="round" stroke-linejoin="round" opacity="1.0"/>
<polyline points="1376.0,999.2 1382.2,1003.7 1379.8,1010.9 1372.3,1010.9 1369.9,1003.7 1376.0,999.2" fill="none" stroke="#4f8f9c" stroke-width="2.2399999999999998" stroke-linecap="round" stroke-linejoin="round" opacity="1.0"/>
<polyline points="1386.8,973.4 1394.9,970.7 1403.0,969.3" fill="none" stroke="#c42a2a" stroke-width="2.08" stroke-linecap="round" stroke-linejoin="round" opacity="1.0"/>
<polyline points="1365.3,1008.3 1359.9,1016.4" fill="none" stroke="#c42a2a" stroke-width="2.08" stroke-linecap="round" stroke-linejoin="round" opacity="1.0"/>
<polyline points="1240.2,783.6 1276.5,770.2" fill="none" stroke="#3b3bc4" stroke-width="1.92" stroke-linecap="round" stroke-linejoin="round" opacity="0.85"/>
<polyline points="1257.6,776.9 1281.9,766.1" fill="none" stroke="#7fa8b0" stroke-width="1.92" stroke-linecap="round" stroke-linejoin="round" opacity="0.85"/>
<polyline points="1255.0,785.0 1263.0,780.1" fill="none" stroke="#a3adb4" stroke-width="1.92" stroke-linecap="round" stroke-linejoin="round" opacity="0.85"/>
<polyline points="1263.0,924.9 1289.9,922.2" fill="none" stroke="#3b3bc4" stroke-width="1.92" stroke-linecap="round" stroke-linejoin="round" opacity="0.85"/>
<polyline points="1322.2,938.4 1338.4,930.3" fill="none" stroke="#3b3bc4" stroke-width="1.92" stroke-linecap="round" stroke-linejoin="round" opacity="0.85"/>
<polyline points="1327.6,954.5 1338.4,946.4" fill="none" stroke="#3b3bc4" stroke-width="1.92" stroke-linecap="round" stroke-linejoin="round" opacity="0.85"/>
<polyline points="1284.6,970.7 1300.7,962.6" fill="none" stroke="#a3adb4" stroke-width="1.92" stroke-linecap="round" stroke-linejoin="round" opacity="0.85"/>
<polyline points="1289.9,984.1 1306.1,976.0" fill="none" stroke="#a3adb4" stroke-width="1.92" stroke-linecap="round" stroke-linejoin="round" opacity="0.85"/>
<polyline points="1386.8,1000.3 1408.3,992.2" fill="none" stroke="#a3adb4" stroke-width="1.92" stroke-linecap="round" stroke-linejoin="round" opacity="0.85"/>
<polyline points="1193.1,938.4 1203.8,954.5 1211.9,949.1" fill="none" stroke="#a3adb4" stroke-width="1.92" stroke-linecap="round" stroke-linejoin="round" opacity="0.85"/>
<polyline points="1217.3,949.1 1233.4,938.4" fill="none" stroke="#c99090" stroke-width="1.92" stroke-linecap="round" stroke-linejoin="round" opacity="0.85"/>
<polyline points="1201.1,970.7 1211.9,986.8" fill="none" stroke="#a3adb4" stroke-width="1.92" stroke-linecap="round" stroke-linejoin="round" opacity="0.85"/>
<polyline points="1185.0,994.9 1198.4,1000.3" fill="none" stroke="#c99090" stroke-width="1.92" stroke-linecap="round" stroke-linejoin="round" opacity="0.85"/>
<polyline points="1300.7,992.2 1316.8,1005.7" fill="none" stroke="#a3adb4" stroke-width="1.92" stroke-linecap="round" stroke-linejoin="round" opacity="0.85"/>
<polyline points="1322.2,1008.3 1343.8,1016.4" fill="none" stroke="#c99090" stroke-width="1.92" stroke-linecap="round" stroke-linejoin="round" opacity="0.85"/>
<polyline points="1230.7,889.9 1260.3,881.9" fill="none" stroke="#3b3bc4" stroke-width="1.92" stroke-linecap="round" stroke-linejoin="round" opacity="0.85"/>
<polyline points="1299.4,803.8 1335.7,817.3" fill="none" stroke="#7fa8b0" stroke-width="1.92" stroke-linecap="round" stroke-linejoin="round" opacity="0.85"/>
<polyline points="1311.5,922.2 1338.4,911.5" fill="none" stroke="#a3adb4" stroke-width="1.92" stroke-linecap="round" stroke-linejoin="round" opacity="0.85"/>
<polyline points="1166.1,973.4 1174.2,992.2 1168.8,1008.3" fill="none" stroke="#a3adb4" stroke-width="1.92" stroke-linecap="round" stroke-linejoin="round" opacity="0.85"/>
<polyline points="1392.2,986.8 1419.1,992.2 1429.9,1008.3" fill="none" stroke="#a3adb4" stroke-width="1.92" stroke-linecap="round" stroke-linejoin="round" opacity="0.85"/>
<polyline points="1408.3,938.4 1419.1,949.1" fill="none" stroke="#c99090" stroke-width="1.92" stroke-linecap="round" stroke-linejoin="round" opacity="0.85"/>
<polyline points="1338.4,970.7 1354.5,965.3" fill="none" stroke="#a3adb4" stroke-width="1.92" stroke-linecap="round" stroke-linejoin="round" opacity="0.85"/>
<polyline points="1230.7,986.8 1246.9,992.2 1257.6,1008.3" fill="none" stroke="#a3adb4" stroke-width="1.92" stroke-linecap="round" stroke-linejoin="round" opacity="0.85"/>
<polyline points="1179.6,1016.4 1203.8,1015.1" fill="none" stroke="#c99090" stroke-width="1.92" stroke-linecap="round" stroke-linejoin="round" opacity="0.85"/>
<polyline points="1265.7,957.2 1276.5,962.6 1284.6,957.2" fill="none" stroke="#c42a2a" stroke-width="2.08" stroke-linecap="round" stroke-linejoin="round" opacity="1.0"/>
<polyline points="1276.5,962.6 1281.9,968.0" fill="none" stroke="#c42a2a" stroke-width="2.08" stroke-linecap="round" stroke-linejoin="round" opacity="1.0"/>
<polyline points="1260.3,986.8 1252.3,984.1" fill="none" stroke="#c42a2a" stroke-width="2.08" stroke-linecap="round" stroke-linejoin="round" opacity="1.0"/>
<polyline points="1373.4,938.4 1378.7,933.0 1386.8,924.9" fill="none" stroke="#c42a2a" stroke-width="2.08" stroke-linecap="round" stroke-linejoin="round" opacity="1.0"/>
<polyline points="1378.7,933.0 1384.1,941.1" fill="none" stroke="#c42a2a" stroke-width="2.08" stroke-linecap="round" stroke-linejoin="round" opacity="1.0"/>
<polyline points="1376.0,954.5 1378.7,954.5" fill="none" stroke="#c42a2a" stroke-width="2.08" stroke-linecap="round" stroke-linejoin="round" opacity="1.0"/>
<polyline points="1280.6,764.8 1286.6,766.1" fill="none" stroke="#c42a2a" stroke-width="2.0" stroke-linecap="round" stroke-linejoin="round" opacity="0.9"/>
<polyline points="1286.0,770.4 1291.3,771.8" fill="none" stroke="#4f8f9c" stroke-width="2.0" stroke-linecap="round" stroke-linejoin="round" opacity="0.9"/>
<polyline points="1280.4,780.2 1284.8,782.0" fill="none" stroke="#7fa8b0" stroke-width="2.0" stroke-linecap="round" stroke-linejoin="round" opacity="0.9"/>
<polyline points="1274.5,789.6 1279.2,790.3" fill="none" stroke="#3b3bc4" stroke-width="2.0" stroke-linecap="round" stroke-linejoin="round" opacity="0.9"/>
<polyline points="1274.7,795.2 1279.4,797.1" fill="none" stroke="#7fa8b0" stroke-width="2.0" stroke-linecap="round" stroke-linejoin="round" opacity="0.9"/>
<polyline points="1275.8,801.5 1278.2,807.1" fill="none" stroke="#4f8f9c" stroke-width="2.0" stroke-linecap="round" stroke-linejoin="round" opacity="0.9"/>
<polyline points="1265.0,802.9 1264.3,810.0" fill="none" stroke="#c42a2a" stroke-width="2.0" stroke-linecap="round" stroke-linejoin="round" opacity="0.9"/>
<polyline points="1262.2,806.6 1256.8,810.7" fill="none" stroke="#4f8f9c" stroke-width="2.0" stroke-linecap="round" stroke-linejoin="round" opacity="0.9"/>
<polyline points="1262.8,812.5 1265.5,817.5" fill="none" stroke="#3b3bc4" stroke-width="2.0" stroke-linecap="round" stroke-linejoin="round" opacity="0.9"/>
<polyline points="1268.7,827.1 1265.5,830.1" fill="none" stroke="#c42a2a" stroke-width="2.0" stroke-linecap="round" stroke-linejoin="round" opacity="0.9"/>
<polyline points="1273.4,825.5 1272.1,832.6" fill="none" stroke="#c42a2a" stroke-width="2.0" stroke-linecap="round" stroke-linejoin="round" opacity="0.9"/>
<polyline points="1259.7,833.0 1256.5,835.4" fill="none" stroke="#4f8f9c" stroke-width="2.0" stroke-linecap="round" stroke-linejoin="round" opacity="0.9"/>
<polyline points="1247.4,840.5 1254.1,841.8" fill="none" stroke="#7fa8b0" stroke-width="2.0" stroke-linecap="round" stroke-linejoin="round" opacity="0.9"/>
<polyline points="1244.1,840.8 1239.3,846.7" fill="none" stroke="#c42a2a" stroke-width="2.0" stroke-linecap="round" stroke-linejoin="round" opacity="0.9"/>
<polyline points="1238.5,839.8 1242.3,841.3" fill="none" stroke="#c42a2a" stroke-width="2.0" stroke-linecap="round" stroke-linejoin="round" opacity="0.9"/>
<polyline points="1240.9,851.7 1237.1,853.3" fill="none" stroke="#c42a2a" stroke-width="2.0" stroke-linecap="round" stroke-linejoin="round" opacity="0.9"/>
<polyline points="1241.5,857.6 1242.8,863.6" fill="none" stroke="#7fa8b0" stroke-width="2.0" stroke-linecap="round" stroke-linejoin="round" opacity="0.9"/>
<polyline points="1234.1,866.9 1229.7,867.5" fill="none" stroke="#4f8f9c" stroke-width="2.0" stroke-linecap="round" stroke-linejoin="round" opacity="0.9"/>
<polyline points="1231.0,859.9 1227.1,862.3" fill="none" stroke="#c42a2a" stroke-width="2.0" stroke-linecap="round" stroke-linejoin="round" opacity="0.9"/>
<polyline points="1221.8,865.1 1220.2,872.8" fill="none" stroke="#7fa8b0" stroke-width="2.0" stroke-linecap="round" stroke-linejoin="round" opacity="0.9"/>
<polyline points="1222.8,875.7 1218.9,879.9" fill="none" stroke="#7fa8b0" stroke-width="2.0" stroke-linecap="round" stroke-linejoin="round" opacity="0.9"/>
<polyline points="1221.6,879.5 1227.8,881.6" fill="none" stroke="#4f8f9c" stroke-width="2.0" stroke-linecap="round" stroke-linejoin="round" opacity="0.9"/>
<polyline points="1229.1,882.6 1235.1,884.7" fill="none" stroke="#4f8f9c" stroke-width="2.0" stroke-linecap="round" stroke-linejoin="round" opacity="0.9"/>
<polyline points="1224.7,884.7 1226.3,888.3" fill="none" stroke="#4f8f9c" stroke-width="2.0" stroke-linecap="round" stroke-linejoin="round" opacity="0.9"/>
<polyline points="1234.4,895.4 1236.9,900.2" fill="none" stroke="#4f8f9c" stroke-width="2.0" stroke-linecap="round" stroke-linejoin="round" opacity="0.9"/>
<polyline points="1240.7,905.3 1241.0,910.4" fill="none" stroke="#4f8f9c" stroke-width="2.0" stroke-linecap="round" stroke-linejoin="round" opacity="0.9"/>
<polyline points="1245.3,904.1 1241.5,906.3" fill="none" stroke="#4f8f9c" stroke-width="2.0" stroke-linecap="round" stroke-linejoin="round" opacity="0.9"/>
<polyline points="1257.7,911.5 1253.3,917.9" fill="none" stroke="#3b3bc4" stroke-width="2.0" stroke-linecap="round" stroke-linejoin="round" opacity="0.9"/>
<polyline points="1260.2,916.2 1254.9,919.0" fill="none" stroke="#4f8f9c" stroke-width="2.0" stroke-linecap="round" stroke-linejoin="round" opacity="0.9"/>
<polyline points="1261.5,927.7 1261.4,934.2" fill="none" stroke="#3b3bc4" stroke-width="2.0" stroke-linecap="round" stroke-linejoin="round" opacity="0.9"/>
<polyline points="1276.2,940.5 1270.2,944.7" fill="none" stroke="#7fa8b0" stroke-width="2.0" stroke-linecap="round" stroke-linejoin="round" opacity="0.9"/>
<polyline points="1270.6,944.8 1265.3,950.8" fill="none" stroke="#c42a2a" stroke-width="2.0" stroke-linecap="round" stroke-linejoin="round" opacity="0.9"/>
<polyline points="1271.5,951.3 1274.9,957.7" fill="none" stroke="#7fa8b0" stroke-width="2.0" stroke-linecap="round" stroke-linejoin="round" opacity="0.9"/>
<polyline points="1280.9,961.2 1284.5,964.2" fill="none" stroke="#4f8f9c" stroke-width="2.0" stroke-linecap="round" stroke-linejoin="round" opacity="0.9"/>
<polyline points="1274.8,969.4 1273.5,973.0" fill="none" stroke="#7fa8b0" stroke-width="2.0" stroke-linecap="round" stroke-linejoin="round" opacity="0.9"/>
<polyline points="1271.8,974.3 1276.9,976.3" fill="none" stroke="#7fa8b0" stroke-width="2.0" stroke-linecap="round" stroke-linejoin="round" opacity="0.9"/>
<polyline points="1263.9,976.7 1259.8,979.9" fill="none" stroke="#7fa8b0" stroke-width="2.0" stroke-linecap="round" stroke-linejoin="round" opacity="0.9"/>
<polyline points="1262.3,989.2 1259.4,992.6" fill="none" stroke="#4f8f9c" stroke-width="2.0" stroke-linecap="round" stroke-linejoin="round" opacity="0.9"/>
<polyline points="1264.6,990.1 1261.6,995.7" fill="none" stroke="#3b3bc4" stroke-width="2.0" stroke-linecap="round" stroke-linejoin="round" opacity="0.9"/>
<polyline points="1266.6,1006.0 1265.9,1010.3" fill="none" stroke="#4f8f9c" stroke-width="2.0" stroke-linecap="round" stroke-linejoin="round" opacity="0.9"/>
<polyline points="1267.8,1010.8 1264.7,1013.9" fill="none" stroke="#4f8f9c" stroke-width="2.0" stroke-linecap="round" stroke-linejoin="round" opacity="0.9"/>
<polyline points="1306.4,805.4 1309.3,809.2" fill="none" stroke="#3b3bc4" stroke-width="2.0" stroke-linecap="round" stroke-linejoin="round" opacity="0.9"/>
<polyline points="1313.1,813.5 1319.9,814.8" fill="none" stroke="#c42a2a" stroke-width="2.0" stroke-linecap="round" stroke-linejoin="round" opacity="0.9"/>
<polyline points="1325.1,816.9 1318.6,820.8" fill="none" stroke="#4f8f9c" stroke-width="2.0" stroke-linecap="round" stroke-linejoin="round" opacity="0.9"/>
<polyline points="1328.3,816.3 1329.2,820.7" fill="none" stroke="#4f8f9c" stroke-width="2.0" stroke-linecap="round" stroke-linejoin="round" opacity="0.9"/>
<polyline points="1333.4,823.5 1331.8,827.5" fill="none" stroke="#4f8f9c" stroke-width="2.0" stroke-linecap="round" stroke-linejoin="round" opacity="0.9"/>
<polyline points="1341.6,832.1 1338.3,834.7" fill="none" stroke="#3b3bc4" stroke-width="2.0" stroke-linecap="round" stroke-linejoin="round" opacity="0.9"/>
<polyline points="1344.7,834.9 1350.2,836.6" fill="none" stroke="#4f8f9c" stroke-width="2.0" stroke-linecap="round" stroke-linejoin="round" opacity="0.9"/>
<polyline points="1349.4,854.0 1347.4,859.6" fill="none" stroke="#3b3bc4" stroke-width="2.0" stroke-linecap="round" stroke-linejoin="round" opacity="0.9"/>
<polyline points="1342.7,858.6 1337.8,862.0" fill="none" stroke="#4f8f9c" stroke-width="2.0" stroke-linecap="round" stroke-linejoin="round" opacity="0.9"/>
<polyline points="1341.3,873.3 1345.5,877.8" fill="none" stroke="#4f8f9c" stroke-width="2.0" stroke-linecap="round" stroke-linejoin="round" opacity="0.9"/>
<polyline points="1324.1,870.7 1324.9,874.7" fill="none" stroke="#4f8f9c" stroke-width="2.0" stroke-linecap="round" stroke-linejoin="round" opacity="0.9"/>
<polyline points="1324.9,877.8 1331.5,880.5" fill="none" stroke="#7fa8b0" stroke-width="2.0" stroke-linecap="round" stroke-linejoin="round" opacity="0.9"/>
<polyline points="1330.5,890.4 1335.7,892.8" fill="none" stroke="#7fa8b0" stroke-width="2.0" stroke-linecap="round" stroke-linejoin="round" opacity="0.9"/>
<polyline points="1325.0,900.4 1317.6,900.6" fill="none" stroke="#4f8f9c" stroke-width="2.0" stroke-linecap="round" stroke-linejoin="round" opacity="0.9"/>
<polyline points="1325.2,902.6 1326.4,907.8" fill="none" stroke="#4f8f9c" stroke-width="2.0" stroke-linecap="round" stroke-linejoin="round" opacity="0.9"/>
<polyline points="1308.2,908.2 1308.9,912.0" fill="none" stroke="#c42a2a" stroke-width="2.0" stroke-linecap="round" stroke-linejoin="round" opacity="0.9"/>
<polyline points="1305.0,915.3 1312.2,918.0" fill="none" stroke="#4f8f9c" stroke-width="2.0" stroke-linecap="round" stroke-linejoin="round" opacity="0.9"/>
<polyline points="1298.7,917.9 1305.8,918.8" fill="none" stroke="#c42a2a" stroke-width="2.0" stroke-linecap="round" stroke-linejoin="round" opacity="0.9"/>
<polyline points="1304.9,929.6 1300.8,936.3" fill="none" stroke="#c42a2a" stroke-width="2.0" stroke-linecap="round" stroke-linejoin="round" opacity="0.9"/>
<polyline points="1305.5,929.9 1303.1,933.2" fill="none" stroke="#4f8f9c" stroke-width="2.0" stroke-linecap="round" stroke-linejoin="round" opacity="0.9"/>
<polyline points="1300.5,946.0 1303.1,948.8" fill="none" stroke="#4f8f9c" stroke-width="2.0" stroke-linecap="round" stroke-linejoin="round" opacity="0.9"/>
<polyline points="1303.1,953.7 1310.5,955.2" fill="none" stroke="#c42a2a" stroke-width="2.0" stroke-linecap="round" stroke-linejoin="round" opacity="0.9"/>
<polyline points="1312.7,951.1 1306.5,952.8" fill="none" stroke="#4f8f9c" stroke-width="2.0" stroke-linecap="round" stroke-linejoin="round" opacity="0.9"/>
<polyline points="1307.5,960.4 1311.0,962.3" fill="none" stroke="#4f8f9c" stroke-width="2.0" stroke-linecap="round" stroke-linejoin="round" opacity="0.9"/>
<polyline points="1307.5,975.8 1312.0,979.2" fill="none" stroke="#7fa8b0" stroke-width="2.0" stroke-linecap="round" stroke-linejoin="round" opacity="0.9"/>
<polyline points="1304.1,972.8 1306.8,975.5" fill="none" stroke="#7fa8b0" stroke-width="2.0" stroke-linecap="round" stroke-linejoin="round" opacity="0.9"/>
<polyline points="1306.7,988.3 1310.7,992.3" fill="none" stroke="#7fa8b0" stroke-width="2.0" stroke-linecap="round" stroke-linejoin="round" opacity="0.9"/>
<polyline points="1380.3,941.2 1375.5,943.9" fill="none" stroke="#3b3bc4" stroke-width="2.0" stroke-linecap="round" stroke-linejoin="round" opacity="0.9"/>
<polyline points="1379.5,943.6 1385.6,948.0" fill="none" stroke="#7fa8b0" stroke-width="2.0" stroke-linecap="round" stroke-linejoin="round" opacity="0.9"/>
<polyline points="1380.5,956.0 1384.7,956.7" fill="none" stroke="#4f8f9c" stroke-width="2.0" stroke-linecap="round" stroke-linejoin="round" opacity="0.9"/>
<polyline points="1380.8,963.4 1387.3,964.6" fill="none" stroke="#c42a2a" stroke-width="2.0" stroke-linecap="round" stroke-linejoin="round" opacity="0.9"/>
<polyline points="1373.4,970.4 1377.1,973.8" fill="none" stroke="#c42a2a" stroke-width="2.0" stroke-linecap="round" stroke-linejoin="round" opacity="0.9"/>
<polyline points="1368.2,969.8 1370.3,974.5" fill="none" stroke="#3b3bc4" stroke-width="2.0" stroke-linecap="round" stroke-linejoin="round" opacity="0.9"/>
<polyline points="1361.0,986.0 1364.5,988.8" fill="none" stroke="#c42a2a" stroke-width="2.0" stroke-linecap="round" stroke-linejoin="round" opacity="0.9"/>
<polyline points="1364.1,989.2 1368.9,992.7" fill="none" stroke="#4f8f9c" stroke-width="2.0" stroke-linecap="round" stroke-linejoin="round" opacity="0.9"/>
<polyline points="1370.6,990.2 1369.1,995.5" fill="none" stroke="#c42a2a" stroke-width="2.0" stroke-linecap="round" stroke-linejoin="round" opacity="0.9"/>
<polyline points="1370.3,1002.1 1369.7,1009.1" fill="none" stroke="#7fa8b0" stroke-width="2.0" stroke-linecap="round" stroke-linejoin="round" opacity="0.9"/>
<polyline points="1381.2,1016.2 1376.1,1020.8" fill="none" stroke="#c42a2a" stroke-width="2.0" stroke-linecap="round" stroke-linejoin="round" opacity="0.9"/>
<polyline points="1320.3,767.8 1327.6,768.8" fill="none" stroke="#c99090" stroke-width="2.0" stroke-linecap="round" stroke-linejoin="round" opacity="0.9"/>
<polyline points="1333.3,772.5 1338.8,775.0" fill="none" stroke="#c99090" stroke-width="2.0" stroke-linecap="round" stroke-linejoin="round" opacity="0.9"/>
<polyline points="1342.3,766.6 1338.4,772.6" fill="none" stroke="#c99090" stroke-width="2.0" stroke-linecap="round" stroke-linejoin="round" opacity="0.9"/>
<polyline points="1350.9,771.0 1355.2,771.4" fill="none" stroke="#a3adb4" stroke-width="2.0" stroke-linecap="round" stroke-linejoin="round" opacity="0.9"/>
<polyline points="1358.4,771.2 1362.2,771.8" fill="none" stroke="#c99090" stroke-width="2.0" stroke-linecap="round" stroke-linejoin="round" opacity="0.9"/>
<polyline points="1365.3,764.9 1359.7,769.0" fill="none" stroke="#c99090" stroke-width="2.0" stroke-linecap="round" stroke-linejoin="round" opacity="0.9"/>
<polyline points="1371.3,766.7 1367.2,770.8" fill="none" stroke="#a3adb4" stroke-width="2.0" stroke-linecap="round" stroke-linejoin="round" opacity="0.9"/>
<polyline points="1380.3,766.4 1385.2,770.7" fill="none" stroke="#a3adb4" stroke-width="2.0" stroke-linecap="round" stroke-linejoin="round" opacity="0.9"/>
<polyline points="1387.0,761.9 1383.1,767.8" fill="none" stroke="#c99090" stroke-width="2.0" stroke-linecap="round" stroke-linejoin="round" opacity="0.9"/>
<polyline points="1192.6,957.5 1195.9,963.2" fill="none" stroke="#c99090" stroke-width="2.0" stroke-linecap="round" stroke-linejoin="round" opacity="0.9"/>
<polyline points="1201.6,954.0 1206.4,954.9" fill="none" stroke="#c99090" stroke-width="2.0" stroke-linecap="round" stroke-linejoin="round" opacity="0.9"/>
<polyline points="1204.6,961.2 1201.5,965.2" fill="none" stroke="#a3adb4" stroke-width="2.0" stroke-linecap="round" stroke-linejoin="round" opacity="0.9"/>
<polyline points="1214.7,969.5 1221.1,974.2" fill="none" stroke="#a3adb4" stroke-width="2.0" stroke-linecap="round" stroke-linejoin="round" opacity="0.9"/>
<polyline points="1222.4,970.6 1216.7,971.2" fill="none" stroke="#a3adb4" stroke-width="2.0" stroke-linecap="round" stroke-linejoin="round" opacity="0.9"/>
<polyline points="1233.7,977.8 1237.8,978.7" fill="none" stroke="#c99090" stroke-width="2.0" stroke-linecap="round" stroke-linejoin="round" opacity="0.9"/>
<polyline points="1231.0,978.6 1226.0,981.8" fill="none" stroke="#a3adb4" stroke-width="2.0" stroke-linecap="round" stroke-linejoin="round" opacity="0.9"/>
<polyline points="1220.9,994.9 1221.0,998.8" fill="none" stroke="#a3adb4" stroke-width="2.0" stroke-linecap="round" stroke-linejoin="round" opacity="0.9"/>
<polyline points="1221.9,999.5 1218.2,1003.7" fill="none" stroke="#a3adb4" stroke-width="2.0" stroke-linecap="round" stroke-linejoin="round" opacity="0.9"/>
<polyline points="1222.4,998.4 1217.2,1003.6" fill="none" stroke="#a3adb4" stroke-width="2.0" stroke-linecap="round" stroke-linejoin="round" opacity="0.9"/>
</g>
<rect x="25.05" y="8.25" width="117.30" height="111.50" rx="18.58" fill="#fff" stroke="#000" stroke-width="3.3"/>
<rect x="289.85" y="6.45" width="117.70" height="111.60" rx="18.60" fill="#fff" stroke="#000" stroke-width="3.3"/>
<rect x="10.65" y="197.35" width="411.50" height="72.80" rx="12.13" fill="#fff" stroke="#000" stroke-width="3.3"/>
<rect x="10.15" y="373.25" width="412.10" height="79.20" rx="13.20" fill="#fff" stroke="#000" stroke-width="3.3"/>
<rect x="10.15" y="549.45" width="412.10" height="73.50" rx="12.25" fill="#fff" stroke="#000" stroke-width="3.3"/>
<rect x="10.15" y="725.95" width="412.10" height="73.70" rx="12.28" fill="#fff" stroke="#000" stroke-width="3.3"/>
<rect x="10.15" y="901.95" width="412.10" height="108.60" rx="18.10" fill="#fff" stroke="#000" stroke-width="3.3"/>
<polygon points="154.96,123.96 183.82,160.56 191.56,151.93 189.86,179.40 161.54,176.71 168.13,172.51 139.79,136.73" fill="#fff" stroke="#000" stroke-width="3.3" stroke-linejoin="miter" stroke-miterlimit="10"/>
<polygon points="280.97,124.70 297.22,135.65 271.29,174.60 279.66,177.84 253.59,183.44 248.23,156.48 255.96,162.96" fill="#fff" stroke="#000" stroke-width="3.3" stroke-linejoin="miter" stroke-miterlimit="10"/>
<polygon points="201.80,289.45 223.20,289.45 223.20,333.65 233.75,333.65 212.50,354.77 191.25,333.65 201.80,333.65" fill="#fff" stroke="#000" stroke-width="3.3" stroke-linejoin="miter" stroke-miterlimit="10"/>
<polygon points="201.80,464.55 223.20,464.55 223.20,509.05 233.81,509.05 212.50,530.65 191.19,509.05 201.80,509.05" fill="#fff" stroke="#000" stroke-width="3.3" stroke-linejoin="miter" stroke-miterlimit="10"/>
<polygon points="201.80,641.25 223.20,641.25 223.20,686.15 233.62,686.15 212.50,706.22 191.38,686.15 201.80,686.15" fill="#fff" stroke="#000" stroke-width="3.3" stroke-linejoin="miter" stroke-miterlimit="10"/>
<polygon points="201.80,817.45 223.20,817.45 223.20,861.95 233.70,861.95 212.50,882.69 191.30,861.95 201.80,861.95" fill="#fff" stroke="#000" stroke-width="3.3" stroke-linejoin="miter" stroke-miterlimit="10"/>
<polygon points="505.70,608.59 524.20,630.25 517.05,630.25 517.15,990.15 436.75,990.15 436.75,968.05 494.45,968.05 494.45,630.25 487.20,630.25" fill="#fff" stroke="#000" stroke-width="3.5" stroke-linejoin="miter" stroke-miterlimit="10"/>
<circle cx="609.7" cy="124.0" r="4.1" fill="#000"/>
<circle cx="774.7" cy="164.0" r="4.1" fill="#000"/>
<circle cx="609.7" cy="241.7" r="4.1" fill="#000"/>
<circle cx="774.7" cy="281.5" r="4.1" fill="#000"/>
<circle cx="609.7" cy="397.8" r="4.1" fill="#000"/>
<rect x="885.00" y="558.95" width="255.60" height="1.30" fill="#000"/>
<rect x="859.00" y="556.15" width="20.30" height="1.50" fill="#000"/>
<rect x="859.00" y="562.65" width="20.30" height="1.50" fill="#000"/>
<rect x="918.20" y="704.45" width="20.80" height="1.50" fill="#000"/>
<rect x="918.20" y="710.45" width="20.80" height="1.50" fill="#000"/>
<rect x="1008.00" y="707.10" width="17.40" height="1.40" fill="#000"/>
<rect x="1030.90" y="707.20" width="16.00" height="1.20" fill="#000"/>
<rect x="1067.00" y="707.20" width="74.90" height="1.20" fill="#000"/>
<rect x="1096.80" y="686.30" width="18.70" height="1.40" fill="#000"/>
<rect x="730.20" y="898.35" width="24.70" height="1.70" fill="#000"/>
<rect x="730.20" y="906.05" width="24.70" height="1.70" fill="#000"/>
<rect x="901.10" y="878.35" width="24.80" height="1.70" fill="#000"/>
<rect x="901.10" y="885.95" width="24.80" height="1.70" fill="#000"/>
<path d="M1004.6,673.2 H996.9 V743.2 H1004.6" fill="none" stroke="#000" stroke-width="1.4"/>
<path d="M1171.0,673.2 H1178.6 V743.2 H1171.0" fill="none" stroke="#000" stroke-width="1.4"/>
<path transform="matrix(0.05364 0 0 0.05396 922.50 490.90)" d="M0,0 L690,0 C710,50 735,110 755,155 C715,90 645,30 465,25 L105,25 L380,400 L80,745 L465,745 C645,740 725,690 755,615 L695,795 L0,795 L310,435 Z" fill="#000"/>
<path transform="matrix(0.05258 0 0 0.05396 887.40 565.00)" d="M0,0 L690,0 C710,50 735,110 755,155 C715,90 645,30 465,25 L105,25 L380,400 L80,745 L465,745 C645,740 725,690 755,615 L695,795 L0,795 L310,435 Z" fill="#000"/>
<path transform="matrix(0.05377 0 0 0.05384 1031.40 565.00)" d="M0,0 L690,0 C710,50 735,110 755,155 C715,90 645,30 465,25 L105,25 L380,400 L80,745 L465,745 C645,740 725,690 755,615 L695,795 L0,795 L310,435 Z" fill="#000"/>
<g fill="#000">
<text transform="matrix(0.95 0 0 1 59.67 56.50)" font-family="'Liberation Sans', sans-serif" font-size="20.8" stroke="#000" stroke-width="0.1" textLength="52.36" lengthAdjust="spacing">Cryo-</text>
<text transform="matrix(0.95 0 0 1 45.36 82.80)" font-family="'Liberation Sans', sans-serif" font-size="20.8" stroke="#000" stroke-width="0.1" letter-spacing="0.810" word-spacing="0.450">EM map</text>
<text transform="matrix(0.95 0 0 1 316.10 55.50)" font-family="'Liberation Sans', sans-serif" font-size="20.8" stroke="#000" stroke-width="0.1" textLength="69.69" lengthAdjust="spacing">Atomic</text>
<text transform="matrix(0.95 0 0 1 319.56 80.80)" font-family="'Liberation Sans', sans-serif" font-size="20.8" stroke="#000" stroke-width="0.1" textLength="63.09" lengthAdjust="spacing">model</text>
<text transform="matrix(0.95 0 0 1 31.66 229.80)" font-family="'Liberation Sans', sans-serif" font-size="20.8" stroke="#000" stroke-width="0.1" letter-spacing="0.675" word-spacing="0.488">Rigid body fit all-atom model into cryo-</text>
<text transform="matrix(0.95 0 0 1 176.56 257.60)" font-family="'Liberation Sans', sans-serif" font-size="20.8" stroke="#000" stroke-width="0.1" letter-spacing="0.886" word-spacing="0.492">EM map</text>
<text transform="matrix(0.95 0 0 1 72.68 405.40)" font-family="'Liberation Sans', sans-serif" font-size="20.8" stroke="#000" stroke-width="0.1" letter-spacing="0.579" word-spacing="0.900">Simulated annealing molecular</text>
<text transform="matrix(0.95 0 0 1 78.68 432.70)" font-family="'Liberation Sans', sans-serif" font-size="20.8" stroke="#000" stroke-width="0.1" letter-spacing="0.568" word-spacing="0.410">dynamics with low CC weight</text>
<text transform="matrix(0.95 0 0 1 73.06 582.30)" font-family="'Liberation Sans', sans-serif" font-size="20.8" stroke="#000" stroke-width="0.1" letter-spacing="0.650" word-spacing="0.542">Pick the structure with highest</text>
<text transform="matrix(0.95 0 0 1 74.38 609.20)" font-family="'Liberation Sans', sans-serif" font-size="20.8" stroke="#000" stroke-width="0.1" letter-spacing="0.748" word-spacing="1.081">correlation coefficient (CC</text>
<text x="348.50" y="609.20" font-family="'Liberation Sans', sans-serif" font-size="20.8" stroke="#000" stroke-width="0.1">)</text>
<text transform="matrix(0.95 0 0 1 36.16 758.20)" font-family="'Liberation Sans', sans-serif" font-size="20.8" stroke="#000" stroke-width="0.1" letter-spacing="0.773" word-spacing="0.515">Filter the map with the simulated map</text>
<text transform="matrix(0.95 0 0 1 176.18 786.00)" font-family="'Liberation Sans', sans-serif" font-size="20.8" stroke="#000" stroke-width="0.1" letter-spacing="0.069" word-spacing="0.031">of CC</text>
<text transform="matrix(0.95 0 0 1 71.08 936.40)" font-family="'Liberation Sans', sans-serif" font-size="20.8" stroke="#000" stroke-width="0.1" letter-spacing="0.599" word-spacing="0.932">Simulated annealing molecular</text>
<text transform="matrix(0.95 0 0 1 76.88 963.80)" font-family="'Liberation Sans', sans-serif" font-size="20.8" stroke="#000" stroke-width="0.1" letter-spacing="0.796" word-spacing="0.766">dynamics with low holonomic</text>
<text transform="matrix(0.95 0 0 1 69.48 991.50)" font-family="'Liberation Sans', sans-serif" font-size="20.8" stroke="#000" stroke-width="0.1" letter-spacing="0.459" word-spacing="0.370">constraints and high CC weight</text>
<text transform="matrix(0.8 0 0 1 808.85 55.00)" font-family="'Liberation Sans', sans-serif" font-size="36" stroke="#000" stroke-width="0.2" letter-spacing="1.566" word-spacing="0.478">E = E(R) + E</text>
<text transform="matrix(0.84 0 0 1 1020.68 55.00)" font-family="'Liberation Sans', sans-serif" font-size="36" stroke="#000" stroke-width="0.2" letter-spacing="1.946" word-spacing="1.297">(R) + w(1-CC)</text>
<text transform="matrix(0.985 0 0 1 637.41 135.00)" font-family="'Liberation Sans', sans-serif" font-size="28.5" stroke="#000" stroke-width="0.3" letter-spacing="0.775" word-spacing="0.818">R: coordinate vector</text>
<text transform="matrix(0.985 0 0 1 801.62 175.00)" font-family="'Liberation Sans', sans-serif" font-size="28.5" stroke="#000" stroke-width="0.3" letter-spacing="0.842" word-spacing="0.804">classical MM: bond, angle, torsion, improper</text>
<text transform="matrix(0.985 0 0 1 802.20 212.70)" font-family="'Liberation Sans', sans-serif" font-size="28.5" stroke="#000" stroke-width="0.3" letter-spacing="0.824" word-spacing="0.824">torsion and volume exclusion</text>
<text transform="matrix(0.985 0 0 1 637.01 252.70)" font-family="'Liberation Sans', sans-serif" font-size="28.5" stroke="#000" stroke-width="0.3" letter-spacing="0.609" word-spacing="0.575">NC: native contact</text>
<text transform="matrix(0.985 0 0 1 801.72 292.50)" font-family="'Liberation Sans', sans-serif" font-size="28.5" stroke="#000" stroke-width="0.3" letter-spacing="0.762" word-spacing="0.607">compute all pairwise contacts for pairs such</text>
<text transform="matrix(0.985 0 0 1 802.60 330.00)" font-family="'Liberation Sans', sans-serif" font-size="28.5" stroke="#000" stroke-width="0.3" letter-spacing="0.871" word-spacing="0.440">that i - j &gt; 4 and with a distance cutoff condition</text>
<text transform="matrix(0.985 0 0 1 801.92 370.50)" font-family="'Liberation Sans', sans-serif" font-size="28.5" stroke="#000" stroke-width="0.3" letter-spacing="0.679" word-spacing="0.226">of d</text>
<text x="852.58" y="376.00" font-family="'Liberation Sans', sans-serif" font-size="19.5">ij0</text>
<text x="881.36" y="370.50" font-family="'Liberation Sans', sans-serif" font-size="28.5" stroke="#000" stroke-width="0.3">=</text>
<text x="908.57" y="370.50" font-family="'Liberation Sans', sans-serif" font-size="28.5" stroke="#000" stroke-width="0.3">|</text>
<text x="921.52" y="370.50" font-family="'Liberation Sans', sans-serif" font-size="28.5" stroke="#000" stroke-width="0.3">r</text>
<text x="932.48" y="376.00" font-family="'Liberation Sans', sans-serif" font-size="19.5">i0</text>
<text x="947.21" y="370.50" font-family="'Liberation Sans', sans-serif" font-size="28.5" stroke="#000" stroke-width="0.3">-</text>
<text x="954.82" y="370.50" font-family="'Liberation Sans', sans-serif" font-size="28.5" stroke="#000" stroke-width="0.3">r</text>
<text x="967.61" y="376.00" font-family="'Liberation Sans', sans-serif" font-size="19.5">j0</text>
<text x="995.17" y="370.50" font-family="'Liberation Sans', sans-serif" font-size="28.5" stroke="#000" stroke-width="0.3">|</text>
<text x="1014.46" y="370.50" font-family="'Liberation Sans', sans-serif" font-size="28.5" stroke="#000" stroke-width="0.3">&lt;=</text>
<text x="1055.35" y="370.50" font-family="'Liberation Sans', sans-serif" font-size="28.5" stroke="#000" stroke-width="0.3">4</text>
<text transform="matrix(0.985 0 0 1 637.28 408.70)" font-family="'Liberation Sans', sans-serif" font-size="28.5" stroke="#000" stroke-width="0.3" letter-spacing="0.828" word-spacing="0.644">CC: The correlation coefficient between the cryo-EM map &amp;</text>
<text transform="matrix(0.985 0 0 1 638.60 448.40)" font-family="'Liberation Sans', sans-serif" font-size="28.5" stroke="#000" stroke-width="0.3" letter-spacing="0.901" word-spacing="0.600">the simulated map. (w = weight)</text>
<text transform="matrix(0.95 0 0 1 695.91 722.40)" font-family="'Liberation Sans', sans-serif" font-size="27.3" stroke="#000" stroke-width="0.3" textLength="78.36" lengthAdjust="spacing">where</text>
<text transform="matrix(0.92 0 0 1 619.83 837.10)" font-family="'Liberation Sans', sans-serif" font-size="27.3" stroke="#000" stroke-width="0.3" letter-spacing="0.671" word-spacing="0.615">masking the unresolved cryo-EM map</text>
<text transform="matrix(0.93 0 0 1 674.22 1012.90)" font-family="'Liberation Sans', sans-serif" font-size="27.0" font-style="italic" stroke="#000" stroke-width="0.2" letter-spacing="0.620" word-spacing="0.537">(Kirmizialtin et al, Methods Enz. 2015).</text>
<text transform="matrix(0.4434 0 0 0.4207 321.87 612.40)" font-family="'Liberation Sans', sans-serif" font-size="30">max</text>
<text transform="matrix(0.4234 0 0 0.4207 226.21 789.30)" font-family="'Liberation Sans', sans-serif" font-size="30">max</text>
<text transform="matrix(0.7535 0 0 0.6864 987.33 41.48)" font-family="'Liberation Sans', sans-serif" font-size="30">NC</text>
<text transform="matrix(0.8719 0 0 0.8855 1080.20 370.50)" font-family="'Liberation Serif', serif" font-size="30">Å</text>
<text transform="matrix(1.1633 0 0 0.9600 806.41 567.65)" font-family="'Liberation Serif', serif" font-size="30" stroke="#fff" stroke-width="0.3" vector-effect="non-scaling-stroke">CC</text>
<text transform="matrix(0.6666 0 0 0.5537 982.99 505.70)" font-family="'Liberation Serif', serif" font-size="30">EM</text>
<text transform="matrix(1.0735 0 0 0.8486 967.11 519.63)" font-family="'Liberation Serif', serif" font-size="30" font-style="italic" stroke="#fff" stroke-width="0.3" vector-effect="non-scaling-stroke">ρ</text>
<path d="M1026.17,496.20 C1016.40,504.94 1016.40,517.46 1026.17,526.20" fill="none" stroke="#000" stroke-width="1.25" stroke-linecap="round"/>
<text transform="matrix(0.8018 0 0 0.9244 1029.52 518.20)" font-family="'Liberation Serif', serif" font-size="30" font-style="italic" stroke="#fff" stroke-width="0.3" vector-effect="non-scaling-stroke">k</text>
<path d="M1043.03,496.20 C1049.61,504.94 1049.61,517.46 1043.03,526.20" fill="none" stroke="#000" stroke-width="1.25" stroke-linecap="round"/>
<text transform="matrix(1.0185 0 0 0.8486 1052.65 519.63)" font-family="'Liberation Serif', serif" font-size="30" font-style="italic" stroke="#fff" stroke-width="0.3" vector-effect="non-scaling-stroke">ρ</text>
<path d="M1079.17,496.20 C1070.46,504.94 1070.46,517.46 1079.17,526.20" fill="none" stroke="#000" stroke-width="1.25" stroke-linecap="round"/>
<text transform="matrix(0.8607 0 0 0.9244 1080.90 518.20)" font-family="'Liberation Serif', serif" font-size="30" font-style="italic" stroke="#fff" stroke-width="0.3" vector-effect="non-scaling-stroke">k</text>
<path d="M1096.03,496.20 C1104.74,504.94 1104.74,517.46 1096.03,526.20" fill="none" stroke="#000" stroke-width="1.25" stroke-linecap="round"/>
<text transform="matrix(0.6915 0 0 0.6637 937.68 553.00)" font-family="'Liberation Serif', serif" font-size="30" font-style="italic">k</text>
<text transform="matrix(0.6326 0 0 0.6447 903.40 625.90)" font-family="'Liberation Serif', serif" font-size="30" font-style="italic">k</text>
<text transform="matrix(1.0185 0 0 0.8486 932.75 593.73)" font-family="'Liberation Serif', serif" font-size="30" font-style="italic" stroke="#fff" stroke-width="0.3" vector-effect="non-scaling-stroke">ρ</text>
<text transform="matrix(0.6711 0 0 0.5943 947.89 579.80)" font-family="'Liberation Serif', serif" font-size="30">EM</text>
<path d="M990.27,571.80 C981.56,580.09 981.56,591.91 990.27,600.20" fill="none" stroke="#000" stroke-width="1.25" stroke-linecap="round"/>
<text transform="matrix(0.8607 0 0 0.9244 993.60 592.30)" font-family="'Liberation Serif', serif" font-size="30" font-style="italic" stroke="#fff" stroke-width="0.3" vector-effect="non-scaling-stroke">k</text>
<path d="M1007.92,571.80 C1015.57,580.09 1015.57,591.91 1007.92,600.20" fill="none" stroke="#000" stroke-width="1.25" stroke-linecap="round"/>
<text transform="matrix(0.7427 0 0 0.6598 1017.50 579.00)" font-family="'Liberation Serif', serif" font-size="30">2</text>
<text transform="matrix(0.6915 0 0 0.6305 1047.48 625.80)" font-family="'Liberation Serif', serif" font-size="30" font-style="italic">k</text>
<text transform="matrix(1.0735 0 0 0.8486 1076.91 593.73)" font-family="'Liberation Serif', serif" font-size="30" font-style="italic" stroke="#fff" stroke-width="0.3" vector-effect="non-scaling-stroke">ρ</text>
<path d="M1101.78,571.80 C1093.06,580.09 1093.06,591.91 1101.78,600.20" fill="none" stroke="#000" stroke-width="1.25" stroke-linecap="round"/>
<text transform="matrix(0.9122 0 0 0.9244 1103.57 592.30)" font-family="'Liberation Serif', serif" font-size="30" font-style="italic" stroke="#fff" stroke-width="0.3" vector-effect="non-scaling-stroke">k</text>
<path d="M1118.62,571.80 C1126.27,580.09 1126.27,591.91 1118.62,600.20" fill="none" stroke="#000" stroke-width="1.25" stroke-linecap="round"/>
<text transform="matrix(0.7980 0 0 0.6598 1127.35 579.00)" font-family="'Liberation Serif', serif" font-size="30">2</text>
<text transform="matrix(1.1520 0 0 1.0792 1174.62 556.84)" font-family="'Liberation Serif', serif" font-size="30" font-style="italic">,</text>
<text transform="matrix(1.0529 0 0 0.9529 822.09 715.45)" font-family="'Liberation Serif', serif" font-size="30" font-style="italic" stroke="#fff" stroke-width="0.3" vector-effect="non-scaling-stroke">ρ</text>
<path d="M849.58,690.40 C840.20,700.51 840.20,715.19 849.58,725.30" fill="none" stroke="#000" stroke-width="1.25" stroke-linecap="round"/>
<text transform="matrix(0.8680 0 0 0.9244 851.89 715.50)" font-family="'Liberation Serif', serif" font-size="30" font-style="italic" stroke="#fff" stroke-width="0.3" vector-effect="non-scaling-stroke">k</text>
<text transform="matrix(1.0240 0 0 1.2549 865.94 715.12)" font-family="'Liberation Serif', serif" font-size="30">,</text>
<text transform="matrix(0.8770 0 0 0.9084 879.59 715.50)" font-family="'Liberation Serif', serif" font-size="30" font-weight="bold">r</text>
<text transform="matrix(0.8000 0 0 0.6475 891.02 720.25)" font-family="'Liberation Serif', serif" font-size="30" font-style="italic" stroke="#fff" stroke-width="0.3" vector-effect="non-scaling-stroke">j</text>
<path d="M900.83,690.40 C910.20,700.51 910.20,715.19 900.83,725.30" fill="none" stroke="#000" stroke-width="1.25" stroke-linecap="round"/>
<text transform="matrix(0.9870 0 0 0.9861 946.37 715.93)" font-family="'Liberation Serif', serif" font-size="30" stroke="#fff" stroke-width="0.3" vector-effect="non-scaling-stroke">exp</text>
<text transform="matrix(0.8622 0 0 0.9129 1031.68 694.40)" font-family="'Liberation Serif', serif" font-size="30" stroke="#fff" stroke-width="0.3" vector-effect="non-scaling-stroke">1</text>
<text transform="matrix(1.1536 0 0 0.8930 1030.52 736.30)" font-family="'Liberation Serif', serif" font-size="30" stroke="#fff" stroke-width="0.3" vector-effect="non-scaling-stroke">2</text>
<path d="M1066.25,681.40 C1052.55,696.74 1052.55,719.66 1066.25,735.00" fill="none" stroke="#000" stroke-width="1.5" stroke-linecap="round"/>
<text transform="matrix(0.8217 0 0 0.8120 1068.01 694.70)" font-family="'Liberation Serif', serif" font-size="30" font-weight="bold">r</text>
<text transform="matrix(0.7136 0 0 0.7870 1079.17 700.20)" font-family="'Liberation Serif', serif" font-size="30" font-style="italic" stroke="#fff" stroke-width="0.3" vector-effect="non-scaling-stroke">k</text>
<text transform="matrix(0.8296 0 0 0.8120 1122.71 694.70)" font-family="'Liberation Serif', serif" font-size="30" font-weight="bold">r</text>
<text transform="matrix(0.8000 0 0 0.8571 1134.12 698.78)" font-family="'Liberation Serif', serif" font-size="30" font-style="italic" stroke="#fff" stroke-width="0.3" vector-effect="non-scaling-stroke">j</text>
<text transform="matrix(0.9826 0 0 0.7843 1096.34 735.93)" font-family="'Liberation Serif', serif" font-size="30" font-style="italic">σ</text>
<path d="M1143.35,681.40 C1157.05,696.74 1157.05,719.66 1143.35,735.00" fill="none" stroke="#000" stroke-width="1.5" stroke-linecap="round"/>
<text transform="matrix(0.7664 0 0 0.6549 1158.48 689.80)" font-family="'Liberation Serif', serif" font-size="30">2</text>
<text transform="matrix(1.0961 0 0 1.2847 663.57 912.27)" font-family="'Liberation Serif', serif" font-size="30" font-style="italic" stroke="#fff" stroke-width="0.3" vector-effect="non-scaling-stroke">q</text>
<path d="M691.77,886.00 C679.34,896.22 679.34,911.08 691.77,921.30" fill="none" stroke="#000" stroke-width="1.25" stroke-linecap="round"/>
<text transform="matrix(1.0446 0 0 1.2326 693.11 912.50)" font-family="'Liberation Serif', serif" font-size="30" font-style="italic" stroke="#fff" stroke-width="0.3" vector-effect="non-scaling-stroke">k</text>
<path d="M710.73,886.00 C723.16,896.22 723.16,911.08 710.73,921.30" fill="none" stroke="#000" stroke-width="1.25" stroke-linecap="round"/>
<text transform="matrix(2.0160 0 0 3.4489 761.98 932.15)" font-family="'Liberation Serif', serif" font-size="30" stroke="#fff" stroke-width="0.3" vector-effect="non-scaling-stroke">{</text>
<text transform="matrix(1.1733 0 0 1.0327 792.70 890.82)" font-family="'Liberation Serif', serif" font-size="30" stroke="#fff" stroke-width="0.3" vector-effect="non-scaling-stroke">0</text>
<text transform="matrix(1.1699 0 0 0.9481 832.20 892.08)" font-family="'Liberation Serif', serif" font-size="30" font-style="italic" stroke="#fff" stroke-width="0.3" vector-effect="non-scaling-stroke">ρ</text>
<path d="M862.77,864.70 C850.34,874.61 850.34,888.99 862.77,898.90" fill="none" stroke="#000" stroke-width="1.25" stroke-linecap="round"/>
<text transform="matrix(1.0446 0 0 1.0098 865.21 891.30)" font-family="'Liberation Serif', serif" font-size="30" font-style="italic" stroke="#fff" stroke-width="0.3" vector-effect="non-scaling-stroke">k</text>
<path d="M882.92,864.70 C893.76,874.61 893.76,888.99 882.92,898.90" fill="none" stroke="#000" stroke-width="1.25" stroke-linecap="round"/>
<text transform="matrix(1.2571 0 0 1.0327 932.92 890.82)" font-family="'Liberation Serif', serif" font-size="30" stroke="#fff" stroke-width="0.3" vector-effect="non-scaling-stroke">0</text>
<text transform="matrix(1.0489 0 0 1.0518 792.54 933.70)" font-family="'Liberation Serif', serif" font-size="30" stroke="#fff" stroke-width="0.3" vector-effect="non-scaling-stroke">1</text>
<text transform="matrix(1.1831 0 0 1.0945 832.29 933.19)" font-family="'Liberation Serif', serif" font-size="30" stroke="#fff" stroke-width="0.3" vector-effect="non-scaling-stroke">otherwise</text>
</g>
</svg>
</body></html>
